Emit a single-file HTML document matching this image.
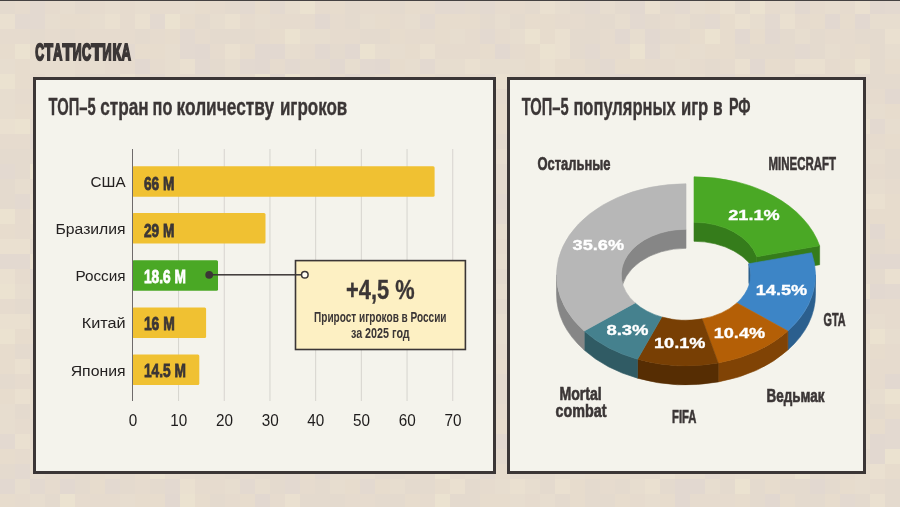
<!DOCTYPE html>
<html lang="ru"><head><meta charset="utf-8"><title>Статистика</title>
<style>
html,body{margin:0;padding:0;}
body{width:900px;height:507px;overflow:hidden;background:rgb(229, 219, 206);font-family:"Liberation Sans", sans-serif;position:relative;}
svg text{font-family:"Liberation Sans", sans-serif;}
</style></head><body>
<svg width="900" height="507" viewBox="0 0 900 507" style="position:absolute;left:0;top:0;display:block;will-change:transform" font-family='"Liberation Sans", sans-serif'>
<rect x="0" y="0" width="900" height="507" fill="rgb(229, 219, 206)"/>
<g shape-rendering="crispEdges">
<rect x="0.0" y="-1.3" width="15" height="15" fill="rgb(228, 218, 206)"/>
<rect x="15.0" y="-1.3" width="15" height="15" fill="rgb(230, 219, 206)"/>
<rect x="30.0" y="-1.3" width="15" height="15" fill="rgb(227, 217, 208)"/>
<rect x="45.0" y="-1.3" width="15" height="15" fill="rgb(230, 219, 206)"/>
<rect x="60.0" y="-1.3" width="15" height="15" fill="rgb(231, 221, 207)"/>
<rect x="75.0" y="-1.3" width="15" height="15" fill="rgb(228, 218, 206)"/>
<rect x="90.0" y="-1.3" width="15" height="15" fill="rgb(230, 219, 206)"/>
<rect x="105.0" y="-1.3" width="15" height="15" fill="rgb(231, 221, 207)"/>
<rect x="120.0" y="-1.3" width="15" height="15" fill="rgb(230, 219, 206)"/>
<rect x="135.0" y="-1.3" width="15" height="15" fill="rgb(231, 221, 207)"/>
<rect x="150.0" y="-1.3" width="15" height="15" fill="rgb(230, 219, 206)"/>
<rect x="165.0" y="-1.3" width="15" height="15" fill="rgb(230, 219, 206)"/>
<rect x="180.0" y="-1.3" width="15" height="15" fill="rgb(231, 221, 207)"/>
<rect x="195.0" y="-1.3" width="15" height="15" fill="rgb(231, 220, 205)"/>
<rect x="210.0" y="-1.3" width="15" height="15" fill="rgb(230, 219, 206)"/>
<rect x="225.0" y="-1.3" width="15" height="15" fill="rgb(228, 218, 206)"/>
<rect x="240.0" y="-1.3" width="15" height="15" fill="rgb(227, 217, 208)"/>
<rect x="255.0" y="-1.3" width="15" height="15" fill="rgb(231, 220, 205)"/>
<rect x="270.0" y="-1.3" width="15" height="15" fill="rgb(227, 217, 208)"/>
<rect x="285.0" y="-1.3" width="15" height="15" fill="rgb(231, 221, 207)"/>
<rect x="300.0" y="-1.3" width="15" height="15" fill="rgb(235, 226, 208)"/>
<rect x="315.0" y="-1.3" width="15" height="15" fill="rgb(230, 219, 206)"/>
<rect x="330.0" y="-1.3" width="15" height="15" fill="rgb(231, 220, 205)"/>
<rect x="345.0" y="-1.3" width="15" height="15" fill="rgb(228, 218, 206)"/>
<rect x="360.0" y="-1.3" width="15" height="15" fill="rgb(230, 219, 206)"/>
<rect x="375.0" y="-1.3" width="15" height="15" fill="rgb(230, 219, 206)"/>
<rect x="390.0" y="-1.3" width="15" height="15" fill="rgb(228, 218, 206)"/>
<rect x="405.0" y="-1.3" width="15" height="15" fill="rgb(231, 220, 205)"/>
<rect x="420.0" y="-1.3" width="15" height="15" fill="rgb(230, 219, 206)"/>
<rect x="435.0" y="-1.3" width="15" height="15" fill="rgb(227, 217, 208)"/>
<rect x="450.0" y="-1.3" width="15" height="15" fill="rgb(227, 217, 208)"/>
<rect x="465.0" y="-1.3" width="15" height="15" fill="rgb(228, 218, 206)"/>
<rect x="480.0" y="-1.3" width="15" height="15" fill="rgb(227, 217, 208)"/>
<rect x="495.0" y="-1.3" width="15" height="15" fill="rgb(230, 219, 206)"/>
<rect x="510.0" y="-1.3" width="15" height="15" fill="rgb(230, 219, 206)"/>
<rect x="525.0" y="-1.3" width="15" height="15" fill="rgb(228, 218, 206)"/>
<rect x="540.0" y="-1.3" width="15" height="15" fill="rgb(234, 224, 208)"/>
<rect x="555.0" y="-1.3" width="15" height="15" fill="rgb(231, 221, 207)"/>
<rect x="570.0" y="-1.3" width="15" height="15" fill="rgb(228, 218, 206)"/>
<rect x="585.0" y="-1.3" width="15" height="15" fill="rgb(227, 217, 208)"/>
<rect x="600.0" y="-1.3" width="15" height="15" fill="rgb(231, 221, 207)"/>
<rect x="615.0" y="-1.3" width="15" height="15" fill="rgb(228, 218, 206)"/>
<rect x="630.0" y="-1.3" width="15" height="15" fill="rgb(226, 216, 208)"/>
<rect x="645.0" y="-1.3" width="15" height="15" fill="rgb(234, 224, 208)"/>
<rect x="660.0" y="-1.3" width="15" height="15" fill="rgb(228, 218, 206)"/>
<rect x="675.0" y="-1.3" width="15" height="15" fill="rgb(227, 217, 208)"/>
<rect x="690.0" y="-1.3" width="15" height="15" fill="rgb(231, 221, 207)"/>
<rect x="705.0" y="-1.3" width="15" height="15" fill="rgb(231, 220, 205)"/>
<rect x="720.0" y="-1.3" width="15" height="15" fill="rgb(234, 224, 208)"/>
<rect x="735.0" y="-1.3" width="15" height="15" fill="rgb(228, 218, 206)"/>
<rect x="750.0" y="-1.3" width="15" height="15" fill="rgb(235, 226, 208)"/>
<rect x="765.0" y="-1.3" width="15" height="15" fill="rgb(230, 219, 206)"/>
<rect x="780.0" y="-1.3" width="15" height="15" fill="rgb(231, 221, 207)"/>
<rect x="795.0" y="-1.3" width="15" height="15" fill="rgb(226, 216, 208)"/>
<rect x="810.0" y="-1.3" width="15" height="15" fill="rgb(230, 219, 206)"/>
<rect x="825.0" y="-1.3" width="15" height="15" fill="rgb(231, 221, 207)"/>
<rect x="840.0" y="-1.3" width="15" height="15" fill="rgb(230, 219, 206)"/>
<rect x="855.0" y="-1.3" width="15" height="15" fill="rgb(234, 224, 208)"/>
<rect x="870.0" y="-1.3" width="15" height="15" fill="rgb(226, 216, 208)"/>
<rect x="885.0" y="-1.3" width="15" height="15" fill="rgb(227, 217, 208)"/>
<rect x="900.0" y="-1.3" width="15" height="15" fill="rgb(231, 220, 205)"/>
<rect x="915.0" y="-1.3" width="15" height="15" fill="rgb(228, 218, 206)"/>
<rect x="0.0" y="13.7" width="15" height="15" fill="rgb(234, 224, 208)"/>
<rect x="15.0" y="13.7" width="15" height="15" fill="rgb(227, 217, 208)"/>
<rect x="30.0" y="13.7" width="15" height="15" fill="rgb(227, 217, 208)"/>
<rect x="45.0" y="13.7" width="15" height="15" fill="rgb(231, 221, 207)"/>
<rect x="60.0" y="13.7" width="15" height="15" fill="rgb(231, 220, 205)"/>
<rect x="75.0" y="13.7" width="15" height="15" fill="rgb(231, 220, 205)"/>
<rect x="90.0" y="13.7" width="15" height="15" fill="rgb(231, 221, 207)"/>
<rect x="105.0" y="13.7" width="15" height="15" fill="rgb(234, 224, 208)"/>
<rect x="120.0" y="13.7" width="15" height="15" fill="rgb(230, 219, 206)"/>
<rect x="135.0" y="13.7" width="15" height="15" fill="rgb(234, 224, 208)"/>
<rect x="150.0" y="13.7" width="15" height="15" fill="rgb(227, 217, 208)"/>
<rect x="165.0" y="13.7" width="15" height="15" fill="rgb(235, 226, 208)"/>
<rect x="180.0" y="13.7" width="15" height="15" fill="rgb(231, 220, 205)"/>
<rect x="195.0" y="13.7" width="15" height="15" fill="rgb(228, 218, 206)"/>
<rect x="210.0" y="13.7" width="15" height="15" fill="rgb(231, 221, 207)"/>
<rect x="225.0" y="13.7" width="15" height="15" fill="rgb(234, 224, 208)"/>
<rect x="240.0" y="13.7" width="15" height="15" fill="rgb(230, 219, 206)"/>
<rect x="255.0" y="13.7" width="15" height="15" fill="rgb(231, 221, 207)"/>
<rect x="270.0" y="13.7" width="15" height="15" fill="rgb(230, 219, 206)"/>
<rect x="285.0" y="13.7" width="15" height="15" fill="rgb(230, 219, 206)"/>
<rect x="300.0" y="13.7" width="15" height="15" fill="rgb(230, 219, 206)"/>
<rect x="315.0" y="13.7" width="15" height="15" fill="rgb(226, 216, 208)"/>
<rect x="330.0" y="13.7" width="15" height="15" fill="rgb(230, 219, 206)"/>
<rect x="345.0" y="13.7" width="15" height="15" fill="rgb(228, 218, 206)"/>
<rect x="360.0" y="13.7" width="15" height="15" fill="rgb(231, 221, 207)"/>
<rect x="375.0" y="13.7" width="15" height="15" fill="rgb(231, 220, 205)"/>
<rect x="390.0" y="13.7" width="15" height="15" fill="rgb(230, 219, 206)"/>
<rect x="405.0" y="13.7" width="15" height="15" fill="rgb(231, 221, 207)"/>
<rect x="420.0" y="13.7" width="15" height="15" fill="rgb(227, 217, 208)"/>
<rect x="435.0" y="13.7" width="15" height="15" fill="rgb(231, 220, 205)"/>
<rect x="450.0" y="13.7" width="15" height="15" fill="rgb(231, 220, 205)"/>
<rect x="465.0" y="13.7" width="15" height="15" fill="rgb(231, 220, 205)"/>
<rect x="480.0" y="13.7" width="15" height="15" fill="rgb(228, 218, 206)"/>
<rect x="495.0" y="13.7" width="15" height="15" fill="rgb(231, 221, 207)"/>
<rect x="510.0" y="13.7" width="15" height="15" fill="rgb(228, 218, 206)"/>
<rect x="525.0" y="13.7" width="15" height="15" fill="rgb(231, 220, 205)"/>
<rect x="540.0" y="13.7" width="15" height="15" fill="rgb(231, 220, 205)"/>
<rect x="555.0" y="13.7" width="15" height="15" fill="rgb(230, 219, 206)"/>
<rect x="570.0" y="13.7" width="15" height="15" fill="rgb(230, 219, 206)"/>
<rect x="585.0" y="13.7" width="15" height="15" fill="rgb(228, 218, 206)"/>
<rect x="600.0" y="13.7" width="15" height="15" fill="rgb(228, 218, 206)"/>
<rect x="615.0" y="13.7" width="15" height="15" fill="rgb(231, 221, 207)"/>
<rect x="630.0" y="13.7" width="15" height="15" fill="rgb(227, 217, 208)"/>
<rect x="645.0" y="13.7" width="15" height="15" fill="rgb(228, 218, 206)"/>
<rect x="660.0" y="13.7" width="15" height="15" fill="rgb(230, 219, 206)"/>
<rect x="675.0" y="13.7" width="15" height="15" fill="rgb(231, 221, 207)"/>
<rect x="690.0" y="13.7" width="15" height="15" fill="rgb(228, 218, 206)"/>
<rect x="705.0" y="13.7" width="15" height="15" fill="rgb(227, 217, 208)"/>
<rect x="720.0" y="13.7" width="15" height="15" fill="rgb(231, 220, 205)"/>
<rect x="735.0" y="13.7" width="15" height="15" fill="rgb(234, 224, 208)"/>
<rect x="750.0" y="13.7" width="15" height="15" fill="rgb(231, 221, 207)"/>
<rect x="765.0" y="13.7" width="15" height="15" fill="rgb(227, 217, 208)"/>
<rect x="780.0" y="13.7" width="15" height="15" fill="rgb(234, 224, 208)"/>
<rect x="795.0" y="13.7" width="15" height="15" fill="rgb(230, 219, 206)"/>
<rect x="810.0" y="13.7" width="15" height="15" fill="rgb(231, 220, 205)"/>
<rect x="825.0" y="13.7" width="15" height="15" fill="rgb(226, 216, 208)"/>
<rect x="840.0" y="13.7" width="15" height="15" fill="rgb(231, 220, 205)"/>
<rect x="855.0" y="13.7" width="15" height="15" fill="rgb(226, 216, 208)"/>
<rect x="870.0" y="13.7" width="15" height="15" fill="rgb(231, 221, 207)"/>
<rect x="885.0" y="13.7" width="15" height="15" fill="rgb(231, 221, 207)"/>
<rect x="900.0" y="13.7" width="15" height="15" fill="rgb(230, 219, 206)"/>
<rect x="915.0" y="13.7" width="15" height="15" fill="rgb(227, 217, 208)"/>
<rect x="0.0" y="28.7" width="15" height="15" fill="rgb(230, 219, 206)"/>
<rect x="15.0" y="28.7" width="15" height="15" fill="rgb(230, 219, 206)"/>
<rect x="30.0" y="28.7" width="15" height="15" fill="rgb(228, 218, 206)"/>
<rect x="45.0" y="28.7" width="15" height="15" fill="rgb(230, 219, 206)"/>
<rect x="60.0" y="28.7" width="15" height="15" fill="rgb(228, 218, 206)"/>
<rect x="75.0" y="28.7" width="15" height="15" fill="rgb(230, 219, 206)"/>
<rect x="90.0" y="28.7" width="15" height="15" fill="rgb(230, 219, 206)"/>
<rect x="105.0" y="28.7" width="15" height="15" fill="rgb(230, 219, 206)"/>
<rect x="120.0" y="28.7" width="15" height="15" fill="rgb(230, 219, 206)"/>
<rect x="135.0" y="28.7" width="15" height="15" fill="rgb(228, 218, 206)"/>
<rect x="150.0" y="28.7" width="15" height="15" fill="rgb(230, 219, 206)"/>
<rect x="165.0" y="28.7" width="15" height="15" fill="rgb(231, 220, 205)"/>
<rect x="180.0" y="28.7" width="15" height="15" fill="rgb(227, 217, 208)"/>
<rect x="195.0" y="28.7" width="15" height="15" fill="rgb(230, 219, 206)"/>
<rect x="210.0" y="28.7" width="15" height="15" fill="rgb(228, 218, 206)"/>
<rect x="225.0" y="28.7" width="15" height="15" fill="rgb(228, 218, 206)"/>
<rect x="240.0" y="28.7" width="15" height="15" fill="rgb(228, 218, 206)"/>
<rect x="255.0" y="28.7" width="15" height="15" fill="rgb(230, 219, 206)"/>
<rect x="270.0" y="28.7" width="15" height="15" fill="rgb(231, 220, 205)"/>
<rect x="285.0" y="28.7" width="15" height="15" fill="rgb(235, 226, 208)"/>
<rect x="300.0" y="28.7" width="15" height="15" fill="rgb(231, 221, 207)"/>
<rect x="315.0" y="28.7" width="15" height="15" fill="rgb(231, 221, 207)"/>
<rect x="330.0" y="28.7" width="15" height="15" fill="rgb(230, 219, 206)"/>
<rect x="345.0" y="28.7" width="15" height="15" fill="rgb(230, 219, 206)"/>
<rect x="360.0" y="28.7" width="15" height="15" fill="rgb(228, 218, 206)"/>
<rect x="375.0" y="28.7" width="15" height="15" fill="rgb(228, 218, 206)"/>
<rect x="390.0" y="28.7" width="15" height="15" fill="rgb(231, 220, 205)"/>
<rect x="405.0" y="28.7" width="15" height="15" fill="rgb(230, 219, 206)"/>
<rect x="420.0" y="28.7" width="15" height="15" fill="rgb(230, 219, 206)"/>
<rect x="435.0" y="28.7" width="15" height="15" fill="rgb(231, 220, 205)"/>
<rect x="450.0" y="28.7" width="15" height="15" fill="rgb(231, 221, 207)"/>
<rect x="465.0" y="28.7" width="15" height="15" fill="rgb(230, 219, 206)"/>
<rect x="480.0" y="28.7" width="15" height="15" fill="rgb(227, 217, 208)"/>
<rect x="495.0" y="28.7" width="15" height="15" fill="rgb(230, 219, 206)"/>
<rect x="510.0" y="28.7" width="15" height="15" fill="rgb(231, 221, 207)"/>
<rect x="525.0" y="28.7" width="15" height="15" fill="rgb(235, 226, 208)"/>
<rect x="540.0" y="28.7" width="15" height="15" fill="rgb(231, 220, 205)"/>
<rect x="555.0" y="28.7" width="15" height="15" fill="rgb(234, 224, 208)"/>
<rect x="570.0" y="28.7" width="15" height="15" fill="rgb(228, 218, 206)"/>
<rect x="585.0" y="28.7" width="15" height="15" fill="rgb(228, 218, 206)"/>
<rect x="600.0" y="28.7" width="15" height="15" fill="rgb(230, 219, 206)"/>
<rect x="615.0" y="28.7" width="15" height="15" fill="rgb(226, 216, 208)"/>
<rect x="630.0" y="28.7" width="15" height="15" fill="rgb(231, 221, 207)"/>
<rect x="645.0" y="28.7" width="15" height="15" fill="rgb(226, 216, 208)"/>
<rect x="660.0" y="28.7" width="15" height="15" fill="rgb(228, 218, 206)"/>
<rect x="675.0" y="28.7" width="15" height="15" fill="rgb(228, 218, 206)"/>
<rect x="690.0" y="28.7" width="15" height="15" fill="rgb(231, 220, 205)"/>
<rect x="705.0" y="28.7" width="15" height="15" fill="rgb(235, 226, 208)"/>
<rect x="720.0" y="28.7" width="15" height="15" fill="rgb(231, 220, 205)"/>
<rect x="735.0" y="28.7" width="15" height="15" fill="rgb(226, 216, 208)"/>
<rect x="750.0" y="28.7" width="15" height="15" fill="rgb(231, 220, 205)"/>
<rect x="765.0" y="28.7" width="15" height="15" fill="rgb(226, 216, 208)"/>
<rect x="780.0" y="28.7" width="15" height="15" fill="rgb(228, 218, 206)"/>
<rect x="795.0" y="28.7" width="15" height="15" fill="rgb(231, 221, 207)"/>
<rect x="810.0" y="28.7" width="15" height="15" fill="rgb(228, 218, 206)"/>
<rect x="825.0" y="28.7" width="15" height="15" fill="rgb(230, 219, 206)"/>
<rect x="840.0" y="28.7" width="15" height="15" fill="rgb(230, 219, 206)"/>
<rect x="855.0" y="28.7" width="15" height="15" fill="rgb(228, 218, 206)"/>
<rect x="870.0" y="28.7" width="15" height="15" fill="rgb(228, 218, 206)"/>
<rect x="885.0" y="28.7" width="15" height="15" fill="rgb(234, 224, 208)"/>
<rect x="900.0" y="28.7" width="15" height="15" fill="rgb(231, 220, 205)"/>
<rect x="915.0" y="28.7" width="15" height="15" fill="rgb(231, 221, 207)"/>
<rect x="0.0" y="43.7" width="15" height="15" fill="rgb(231, 220, 205)"/>
<rect x="15.0" y="43.7" width="15" height="15" fill="rgb(235, 226, 208)"/>
<rect x="30.0" y="43.7" width="15" height="15" fill="rgb(231, 220, 205)"/>
<rect x="45.0" y="43.7" width="15" height="15" fill="rgb(228, 218, 206)"/>
<rect x="60.0" y="43.7" width="15" height="15" fill="rgb(228, 218, 206)"/>
<rect x="75.0" y="43.7" width="15" height="15" fill="rgb(228, 218, 206)"/>
<rect x="90.0" y="43.7" width="15" height="15" fill="rgb(228, 218, 206)"/>
<rect x="105.0" y="43.7" width="15" height="15" fill="rgb(228, 218, 206)"/>
<rect x="120.0" y="43.7" width="15" height="15" fill="rgb(227, 217, 208)"/>
<rect x="135.0" y="43.7" width="15" height="15" fill="rgb(231, 220, 205)"/>
<rect x="150.0" y="43.7" width="15" height="15" fill="rgb(231, 220, 205)"/>
<rect x="165.0" y="43.7" width="15" height="15" fill="rgb(231, 221, 207)"/>
<rect x="180.0" y="43.7" width="15" height="15" fill="rgb(227, 217, 208)"/>
<rect x="195.0" y="43.7" width="15" height="15" fill="rgb(226, 216, 208)"/>
<rect x="210.0" y="43.7" width="15" height="15" fill="rgb(230, 219, 206)"/>
<rect x="225.0" y="43.7" width="15" height="15" fill="rgb(234, 224, 208)"/>
<rect x="240.0" y="43.7" width="15" height="15" fill="rgb(231, 220, 205)"/>
<rect x="255.0" y="43.7" width="15" height="15" fill="rgb(226, 216, 208)"/>
<rect x="270.0" y="43.7" width="15" height="15" fill="rgb(226, 216, 208)"/>
<rect x="285.0" y="43.7" width="15" height="15" fill="rgb(231, 221, 207)"/>
<rect x="300.0" y="43.7" width="15" height="15" fill="rgb(230, 219, 206)"/>
<rect x="315.0" y="43.7" width="15" height="15" fill="rgb(226, 216, 208)"/>
<rect x="330.0" y="43.7" width="15" height="15" fill="rgb(228, 218, 206)"/>
<rect x="345.0" y="43.7" width="15" height="15" fill="rgb(226, 216, 208)"/>
<rect x="360.0" y="43.7" width="15" height="15" fill="rgb(235, 226, 208)"/>
<rect x="375.0" y="43.7" width="15" height="15" fill="rgb(231, 221, 207)"/>
<rect x="390.0" y="43.7" width="15" height="15" fill="rgb(231, 221, 207)"/>
<rect x="405.0" y="43.7" width="15" height="15" fill="rgb(231, 220, 205)"/>
<rect x="420.0" y="43.7" width="15" height="15" fill="rgb(234, 224, 208)"/>
<rect x="435.0" y="43.7" width="15" height="15" fill="rgb(230, 219, 206)"/>
<rect x="450.0" y="43.7" width="15" height="15" fill="rgb(230, 219, 206)"/>
<rect x="465.0" y="43.7" width="15" height="15" fill="rgb(230, 219, 206)"/>
<rect x="480.0" y="43.7" width="15" height="15" fill="rgb(231, 220, 205)"/>
<rect x="495.0" y="43.7" width="15" height="15" fill="rgb(226, 216, 208)"/>
<rect x="510.0" y="43.7" width="15" height="15" fill="rgb(230, 219, 206)"/>
<rect x="525.0" y="43.7" width="15" height="15" fill="rgb(231, 220, 205)"/>
<rect x="540.0" y="43.7" width="15" height="15" fill="rgb(235, 226, 208)"/>
<rect x="555.0" y="43.7" width="15" height="15" fill="rgb(234, 224, 208)"/>
<rect x="570.0" y="43.7" width="15" height="15" fill="rgb(228, 218, 206)"/>
<rect x="585.0" y="43.7" width="15" height="15" fill="rgb(227, 217, 208)"/>
<rect x="600.0" y="43.7" width="15" height="15" fill="rgb(230, 219, 206)"/>
<rect x="615.0" y="43.7" width="15" height="15" fill="rgb(230, 219, 206)"/>
<rect x="630.0" y="43.7" width="15" height="15" fill="rgb(235, 226, 208)"/>
<rect x="645.0" y="43.7" width="15" height="15" fill="rgb(227, 217, 208)"/>
<rect x="660.0" y="43.7" width="15" height="15" fill="rgb(231, 221, 207)"/>
<rect x="675.0" y="43.7" width="15" height="15" fill="rgb(231, 220, 205)"/>
<rect x="690.0" y="43.7" width="15" height="15" fill="rgb(231, 221, 207)"/>
<rect x="705.0" y="43.7" width="15" height="15" fill="rgb(231, 220, 205)"/>
<rect x="720.0" y="43.7" width="15" height="15" fill="rgb(231, 220, 205)"/>
<rect x="735.0" y="43.7" width="15" height="15" fill="rgb(228, 218, 206)"/>
<rect x="750.0" y="43.7" width="15" height="15" fill="rgb(228, 218, 206)"/>
<rect x="765.0" y="43.7" width="15" height="15" fill="rgb(228, 218, 206)"/>
<rect x="780.0" y="43.7" width="15" height="15" fill="rgb(228, 218, 206)"/>
<rect x="795.0" y="43.7" width="15" height="15" fill="rgb(227, 217, 208)"/>
<rect x="810.0" y="43.7" width="15" height="15" fill="rgb(228, 218, 206)"/>
<rect x="825.0" y="43.7" width="15" height="15" fill="rgb(231, 221, 207)"/>
<rect x="840.0" y="43.7" width="15" height="15" fill="rgb(230, 219, 206)"/>
<rect x="855.0" y="43.7" width="15" height="15" fill="rgb(231, 220, 205)"/>
<rect x="870.0" y="43.7" width="15" height="15" fill="rgb(228, 218, 206)"/>
<rect x="885.0" y="43.7" width="15" height="15" fill="rgb(231, 221, 207)"/>
<rect x="900.0" y="43.7" width="15" height="15" fill="rgb(227, 217, 208)"/>
<rect x="915.0" y="43.7" width="15" height="15" fill="rgb(231, 220, 205)"/>
<rect x="0.0" y="58.7" width="15" height="15" fill="rgb(231, 221, 207)"/>
<rect x="15.0" y="58.7" width="15" height="15" fill="rgb(231, 220, 205)"/>
<rect x="30.0" y="58.7" width="15" height="15" fill="rgb(231, 221, 207)"/>
<rect x="45.0" y="58.7" width="15" height="15" fill="rgb(231, 221, 207)"/>
<rect x="60.0" y="58.7" width="15" height="15" fill="rgb(231, 221, 207)"/>
<rect x="75.0" y="58.7" width="15" height="15" fill="rgb(230, 219, 206)"/>
<rect x="90.0" y="58.7" width="15" height="15" fill="rgb(231, 221, 207)"/>
<rect x="105.0" y="58.7" width="15" height="15" fill="rgb(230, 219, 206)"/>
<rect x="120.0" y="58.7" width="15" height="15" fill="rgb(230, 219, 206)"/>
<rect x="135.0" y="58.7" width="15" height="15" fill="rgb(226, 216, 208)"/>
<rect x="150.0" y="58.7" width="15" height="15" fill="rgb(230, 219, 206)"/>
<rect x="165.0" y="58.7" width="15" height="15" fill="rgb(231, 221, 207)"/>
<rect x="180.0" y="58.7" width="15" height="15" fill="rgb(234, 224, 208)"/>
<rect x="195.0" y="58.7" width="15" height="15" fill="rgb(227, 217, 208)"/>
<rect x="210.0" y="58.7" width="15" height="15" fill="rgb(228, 218, 206)"/>
<rect x="225.0" y="58.7" width="15" height="15" fill="rgb(231, 221, 207)"/>
<rect x="240.0" y="58.7" width="15" height="15" fill="rgb(227, 217, 208)"/>
<rect x="255.0" y="58.7" width="15" height="15" fill="rgb(226, 216, 208)"/>
<rect x="270.0" y="58.7" width="15" height="15" fill="rgb(230, 219, 206)"/>
<rect x="285.0" y="58.7" width="15" height="15" fill="rgb(227, 217, 208)"/>
<rect x="300.0" y="58.7" width="15" height="15" fill="rgb(228, 218, 206)"/>
<rect x="315.0" y="58.7" width="15" height="15" fill="rgb(228, 218, 206)"/>
<rect x="330.0" y="58.7" width="15" height="15" fill="rgb(226, 216, 208)"/>
<rect x="345.0" y="58.7" width="15" height="15" fill="rgb(231, 221, 207)"/>
<rect x="360.0" y="58.7" width="15" height="15" fill="rgb(227, 217, 208)"/>
<rect x="375.0" y="58.7" width="15" height="15" fill="rgb(226, 216, 208)"/>
<rect x="390.0" y="58.7" width="15" height="15" fill="rgb(231, 220, 205)"/>
<rect x="405.0" y="58.7" width="15" height="15" fill="rgb(231, 221, 207)"/>
<rect x="420.0" y="58.7" width="15" height="15" fill="rgb(227, 217, 208)"/>
<rect x="435.0" y="58.7" width="15" height="15" fill="rgb(231, 221, 207)"/>
<rect x="450.0" y="58.7" width="15" height="15" fill="rgb(231, 221, 207)"/>
<rect x="465.0" y="58.7" width="15" height="15" fill="rgb(234, 224, 208)"/>
<rect x="480.0" y="58.7" width="15" height="15" fill="rgb(231, 221, 207)"/>
<rect x="495.0" y="58.7" width="15" height="15" fill="rgb(231, 221, 207)"/>
<rect x="510.0" y="58.7" width="15" height="15" fill="rgb(231, 221, 207)"/>
<rect x="525.0" y="58.7" width="15" height="15" fill="rgb(231, 220, 205)"/>
<rect x="540.0" y="58.7" width="15" height="15" fill="rgb(234, 224, 208)"/>
<rect x="555.0" y="58.7" width="15" height="15" fill="rgb(231, 220, 205)"/>
<rect x="570.0" y="58.7" width="15" height="15" fill="rgb(231, 220, 205)"/>
<rect x="585.0" y="58.7" width="15" height="15" fill="rgb(228, 218, 206)"/>
<rect x="600.0" y="58.7" width="15" height="15" fill="rgb(227, 217, 208)"/>
<rect x="615.0" y="58.7" width="15" height="15" fill="rgb(231, 220, 205)"/>
<rect x="630.0" y="58.7" width="15" height="15" fill="rgb(231, 220, 205)"/>
<rect x="645.0" y="58.7" width="15" height="15" fill="rgb(230, 219, 206)"/>
<rect x="660.0" y="58.7" width="15" height="15" fill="rgb(230, 219, 206)"/>
<rect x="675.0" y="58.7" width="15" height="15" fill="rgb(231, 221, 207)"/>
<rect x="690.0" y="58.7" width="15" height="15" fill="rgb(230, 219, 206)"/>
<rect x="705.0" y="58.7" width="15" height="15" fill="rgb(228, 218, 206)"/>
<rect x="720.0" y="58.7" width="15" height="15" fill="rgb(230, 219, 206)"/>
<rect x="735.0" y="58.7" width="15" height="15" fill="rgb(234, 224, 208)"/>
<rect x="750.0" y="58.7" width="15" height="15" fill="rgb(226, 216, 208)"/>
<rect x="765.0" y="58.7" width="15" height="15" fill="rgb(231, 220, 205)"/>
<rect x="780.0" y="58.7" width="15" height="15" fill="rgb(230, 219, 206)"/>
<rect x="795.0" y="58.7" width="15" height="15" fill="rgb(234, 224, 208)"/>
<rect x="810.0" y="58.7" width="15" height="15" fill="rgb(234, 224, 208)"/>
<rect x="825.0" y="58.7" width="15" height="15" fill="rgb(230, 219, 206)"/>
<rect x="840.0" y="58.7" width="15" height="15" fill="rgb(231, 220, 205)"/>
<rect x="855.0" y="58.7" width="15" height="15" fill="rgb(235, 226, 208)"/>
<rect x="870.0" y="58.7" width="15" height="15" fill="rgb(228, 218, 206)"/>
<rect x="885.0" y="58.7" width="15" height="15" fill="rgb(231, 220, 205)"/>
<rect x="900.0" y="58.7" width="15" height="15" fill="rgb(231, 221, 207)"/>
<rect x="915.0" y="58.7" width="15" height="15" fill="rgb(231, 221, 207)"/>
<rect x="0.0" y="73.7" width="15" height="15" fill="rgb(235, 226, 208)"/>
<rect x="15.0" y="73.7" width="15" height="15" fill="rgb(231, 220, 205)"/>
<rect x="30.0" y="73.7" width="15" height="15" fill="rgb(230, 219, 206)"/>
<rect x="45.0" y="73.7" width="15" height="15" fill="rgb(231, 221, 207)"/>
<rect x="60.0" y="73.7" width="15" height="15" fill="rgb(231, 221, 207)"/>
<rect x="75.0" y="73.7" width="15" height="15" fill="rgb(228, 218, 206)"/>
<rect x="90.0" y="73.7" width="15" height="15" fill="rgb(228, 218, 206)"/>
<rect x="105.0" y="73.7" width="15" height="15" fill="rgb(228, 218, 206)"/>
<rect x="120.0" y="73.7" width="15" height="15" fill="rgb(234, 224, 208)"/>
<rect x="135.0" y="73.7" width="15" height="15" fill="rgb(230, 219, 206)"/>
<rect x="150.0" y="73.7" width="15" height="15" fill="rgb(227, 217, 208)"/>
<rect x="165.0" y="73.7" width="15" height="15" fill="rgb(231, 221, 207)"/>
<rect x="180.0" y="73.7" width="15" height="15" fill="rgb(230, 219, 206)"/>
<rect x="195.0" y="73.7" width="15" height="15" fill="rgb(228, 218, 206)"/>
<rect x="210.0" y="73.7" width="15" height="15" fill="rgb(227, 217, 208)"/>
<rect x="225.0" y="73.7" width="15" height="15" fill="rgb(231, 221, 207)"/>
<rect x="240.0" y="73.7" width="15" height="15" fill="rgb(230, 219, 206)"/>
<rect x="255.0" y="73.7" width="15" height="15" fill="rgb(235, 226, 208)"/>
<rect x="270.0" y="73.7" width="15" height="15" fill="rgb(226, 216, 208)"/>
<rect x="285.0" y="73.7" width="15" height="15" fill="rgb(235, 226, 208)"/>
<rect x="300.0" y="73.7" width="15" height="15" fill="rgb(230, 219, 206)"/>
<rect x="315.0" y="73.7" width="15" height="15" fill="rgb(228, 218, 206)"/>
<rect x="330.0" y="73.7" width="15" height="15" fill="rgb(230, 219, 206)"/>
<rect x="345.0" y="73.7" width="15" height="15" fill="rgb(226, 216, 208)"/>
<rect x="360.0" y="73.7" width="15" height="15" fill="rgb(228, 218, 206)"/>
<rect x="375.0" y="73.7" width="15" height="15" fill="rgb(230, 219, 206)"/>
<rect x="390.0" y="73.7" width="15" height="15" fill="rgb(231, 221, 207)"/>
<rect x="405.0" y="73.7" width="15" height="15" fill="rgb(231, 220, 205)"/>
<rect x="420.0" y="73.7" width="15" height="15" fill="rgb(231, 220, 205)"/>
<rect x="435.0" y="73.7" width="15" height="15" fill="rgb(228, 218, 206)"/>
<rect x="450.0" y="73.7" width="15" height="15" fill="rgb(230, 219, 206)"/>
<rect x="465.0" y="73.7" width="15" height="15" fill="rgb(231, 220, 205)"/>
<rect x="480.0" y="73.7" width="15" height="15" fill="rgb(227, 217, 208)"/>
<rect x="495.0" y="73.7" width="15" height="15" fill="rgb(234, 224, 208)"/>
<rect x="510.0" y="73.7" width="15" height="15" fill="rgb(230, 219, 206)"/>
<rect x="525.0" y="73.7" width="15" height="15" fill="rgb(230, 219, 206)"/>
<rect x="540.0" y="73.7" width="15" height="15" fill="rgb(234, 224, 208)"/>
<rect x="555.0" y="73.7" width="15" height="15" fill="rgb(231, 221, 207)"/>
<rect x="570.0" y="73.7" width="15" height="15" fill="rgb(230, 219, 206)"/>
<rect x="585.0" y="73.7" width="15" height="15" fill="rgb(231, 220, 205)"/>
<rect x="600.0" y="73.7" width="15" height="15" fill="rgb(227, 217, 208)"/>
<rect x="615.0" y="73.7" width="15" height="15" fill="rgb(226, 216, 208)"/>
<rect x="630.0" y="73.7" width="15" height="15" fill="rgb(230, 219, 206)"/>
<rect x="645.0" y="73.7" width="15" height="15" fill="rgb(231, 220, 205)"/>
<rect x="660.0" y="73.7" width="15" height="15" fill="rgb(230, 219, 206)"/>
<rect x="675.0" y="73.7" width="15" height="15" fill="rgb(231, 220, 205)"/>
<rect x="690.0" y="73.7" width="15" height="15" fill="rgb(231, 221, 207)"/>
<rect x="705.0" y="73.7" width="15" height="15" fill="rgb(228, 218, 206)"/>
<rect x="720.0" y="73.7" width="15" height="15" fill="rgb(227, 217, 208)"/>
<rect x="735.0" y="73.7" width="15" height="15" fill="rgb(231, 220, 205)"/>
<rect x="750.0" y="73.7" width="15" height="15" fill="rgb(228, 218, 206)"/>
<rect x="765.0" y="73.7" width="15" height="15" fill="rgb(230, 219, 206)"/>
<rect x="780.0" y="73.7" width="15" height="15" fill="rgb(231, 221, 207)"/>
<rect x="795.0" y="73.7" width="15" height="15" fill="rgb(228, 218, 206)"/>
<rect x="810.0" y="73.7" width="15" height="15" fill="rgb(230, 219, 206)"/>
<rect x="825.0" y="73.7" width="15" height="15" fill="rgb(230, 219, 206)"/>
<rect x="840.0" y="73.7" width="15" height="15" fill="rgb(230, 219, 206)"/>
<rect x="855.0" y="73.7" width="15" height="15" fill="rgb(228, 218, 206)"/>
<rect x="870.0" y="73.7" width="15" height="15" fill="rgb(228, 218, 206)"/>
<rect x="885.0" y="73.7" width="15" height="15" fill="rgb(228, 218, 206)"/>
<rect x="900.0" y="73.7" width="15" height="15" fill="rgb(226, 216, 208)"/>
<rect x="915.0" y="73.7" width="15" height="15" fill="rgb(228, 218, 206)"/>
<rect x="0.0" y="88.7" width="15" height="15" fill="rgb(231, 221, 207)"/>
<rect x="15.0" y="88.7" width="15" height="15" fill="rgb(230, 219, 206)"/>
<rect x="30.0" y="88.7" width="15" height="15" fill="rgb(228, 218, 206)"/>
<rect x="495.0" y="88.7" width="15" height="15" fill="rgb(230, 219, 206)"/>
<rect x="855.0" y="88.7" width="15" height="15" fill="rgb(228, 218, 206)"/>
<rect x="870.0" y="88.7" width="15" height="15" fill="rgb(230, 219, 206)"/>
<rect x="885.0" y="88.7" width="15" height="15" fill="rgb(226, 216, 208)"/>
<rect x="900.0" y="88.7" width="15" height="15" fill="rgb(227, 217, 208)"/>
<rect x="915.0" y="88.7" width="15" height="15" fill="rgb(230, 219, 206)"/>
<rect x="0.0" y="103.7" width="15" height="15" fill="rgb(231, 221, 207)"/>
<rect x="15.0" y="103.7" width="15" height="15" fill="rgb(231, 220, 205)"/>
<rect x="30.0" y="103.7" width="15" height="15" fill="rgb(230, 219, 206)"/>
<rect x="495.0" y="103.7" width="15" height="15" fill="rgb(231, 220, 205)"/>
<rect x="855.0" y="103.7" width="15" height="15" fill="rgb(231, 221, 207)"/>
<rect x="870.0" y="103.7" width="15" height="15" fill="rgb(231, 221, 207)"/>
<rect x="885.0" y="103.7" width="15" height="15" fill="rgb(231, 220, 205)"/>
<rect x="900.0" y="103.7" width="15" height="15" fill="rgb(231, 221, 207)"/>
<rect x="915.0" y="103.7" width="15" height="15" fill="rgb(231, 221, 207)"/>
<rect x="0.0" y="118.7" width="15" height="15" fill="rgb(234, 224, 208)"/>
<rect x="15.0" y="118.7" width="15" height="15" fill="rgb(235, 226, 208)"/>
<rect x="30.0" y="118.7" width="15" height="15" fill="rgb(228, 218, 206)"/>
<rect x="495.0" y="118.7" width="15" height="15" fill="rgb(231, 220, 205)"/>
<rect x="855.0" y="118.7" width="15" height="15" fill="rgb(234, 224, 208)"/>
<rect x="870.0" y="118.7" width="15" height="15" fill="rgb(227, 217, 208)"/>
<rect x="885.0" y="118.7" width="15" height="15" fill="rgb(231, 221, 207)"/>
<rect x="900.0" y="118.7" width="15" height="15" fill="rgb(228, 218, 206)"/>
<rect x="915.0" y="118.7" width="15" height="15" fill="rgb(230, 219, 206)"/>
<rect x="0.0" y="133.7" width="15" height="15" fill="rgb(230, 219, 206)"/>
<rect x="15.0" y="133.7" width="15" height="15" fill="rgb(230, 219, 206)"/>
<rect x="30.0" y="133.7" width="15" height="15" fill="rgb(226, 216, 208)"/>
<rect x="495.0" y="133.7" width="15" height="15" fill="rgb(228, 218, 206)"/>
<rect x="855.0" y="133.7" width="15" height="15" fill="rgb(230, 219, 206)"/>
<rect x="870.0" y="133.7" width="15" height="15" fill="rgb(230, 219, 206)"/>
<rect x="885.0" y="133.7" width="15" height="15" fill="rgb(231, 220, 205)"/>
<rect x="900.0" y="133.7" width="15" height="15" fill="rgb(231, 220, 205)"/>
<rect x="915.0" y="133.7" width="15" height="15" fill="rgb(234, 224, 208)"/>
<rect x="0.0" y="148.7" width="15" height="15" fill="rgb(228, 218, 206)"/>
<rect x="15.0" y="148.7" width="15" height="15" fill="rgb(228, 218, 206)"/>
<rect x="30.0" y="148.7" width="15" height="15" fill="rgb(228, 218, 206)"/>
<rect x="495.0" y="148.7" width="15" height="15" fill="rgb(231, 221, 207)"/>
<rect x="855.0" y="148.7" width="15" height="15" fill="rgb(230, 219, 206)"/>
<rect x="870.0" y="148.7" width="15" height="15" fill="rgb(231, 221, 207)"/>
<rect x="885.0" y="148.7" width="15" height="15" fill="rgb(228, 218, 206)"/>
<rect x="900.0" y="148.7" width="15" height="15" fill="rgb(235, 226, 208)"/>
<rect x="915.0" y="148.7" width="15" height="15" fill="rgb(235, 226, 208)"/>
<rect x="0.0" y="163.7" width="15" height="15" fill="rgb(227, 217, 208)"/>
<rect x="15.0" y="163.7" width="15" height="15" fill="rgb(228, 218, 206)"/>
<rect x="30.0" y="163.7" width="15" height="15" fill="rgb(235, 226, 208)"/>
<rect x="495.0" y="163.7" width="15" height="15" fill="rgb(228, 218, 206)"/>
<rect x="855.0" y="163.7" width="15" height="15" fill="rgb(228, 218, 206)"/>
<rect x="870.0" y="163.7" width="15" height="15" fill="rgb(230, 219, 206)"/>
<rect x="885.0" y="163.7" width="15" height="15" fill="rgb(228, 218, 206)"/>
<rect x="900.0" y="163.7" width="15" height="15" fill="rgb(231, 221, 207)"/>
<rect x="915.0" y="163.7" width="15" height="15" fill="rgb(231, 221, 207)"/>
<rect x="0.0" y="178.7" width="15" height="15" fill="rgb(228, 218, 206)"/>
<rect x="15.0" y="178.7" width="15" height="15" fill="rgb(231, 221, 207)"/>
<rect x="30.0" y="178.7" width="15" height="15" fill="rgb(230, 219, 206)"/>
<rect x="495.0" y="178.7" width="15" height="15" fill="rgb(228, 218, 206)"/>
<rect x="855.0" y="178.7" width="15" height="15" fill="rgb(230, 219, 206)"/>
<rect x="870.0" y="178.7" width="15" height="15" fill="rgb(231, 221, 207)"/>
<rect x="885.0" y="178.7" width="15" height="15" fill="rgb(230, 219, 206)"/>
<rect x="900.0" y="178.7" width="15" height="15" fill="rgb(230, 219, 206)"/>
<rect x="915.0" y="178.7" width="15" height="15" fill="rgb(228, 218, 206)"/>
<rect x="0.0" y="193.7" width="15" height="15" fill="rgb(228, 218, 206)"/>
<rect x="15.0" y="193.7" width="15" height="15" fill="rgb(227, 217, 208)"/>
<rect x="30.0" y="193.7" width="15" height="15" fill="rgb(231, 221, 207)"/>
<rect x="495.0" y="193.7" width="15" height="15" fill="rgb(226, 216, 208)"/>
<rect x="855.0" y="193.7" width="15" height="15" fill="rgb(234, 224, 208)"/>
<rect x="870.0" y="193.7" width="15" height="15" fill="rgb(234, 224, 208)"/>
<rect x="885.0" y="193.7" width="15" height="15" fill="rgb(231, 220, 205)"/>
<rect x="900.0" y="193.7" width="15" height="15" fill="rgb(231, 221, 207)"/>
<rect x="915.0" y="193.7" width="15" height="15" fill="rgb(228, 218, 206)"/>
<rect x="0.0" y="208.7" width="15" height="15" fill="rgb(235, 226, 208)"/>
<rect x="15.0" y="208.7" width="15" height="15" fill="rgb(230, 219, 206)"/>
<rect x="30.0" y="208.7" width="15" height="15" fill="rgb(234, 224, 208)"/>
<rect x="495.0" y="208.7" width="15" height="15" fill="rgb(227, 217, 208)"/>
<rect x="855.0" y="208.7" width="15" height="15" fill="rgb(230, 219, 206)"/>
<rect x="870.0" y="208.7" width="15" height="15" fill="rgb(231, 220, 205)"/>
<rect x="885.0" y="208.7" width="15" height="15" fill="rgb(231, 220, 205)"/>
<rect x="900.0" y="208.7" width="15" height="15" fill="rgb(227, 217, 208)"/>
<rect x="915.0" y="208.7" width="15" height="15" fill="rgb(226, 216, 208)"/>
<rect x="0.0" y="223.7" width="15" height="15" fill="rgb(231, 220, 205)"/>
<rect x="15.0" y="223.7" width="15" height="15" fill="rgb(230, 219, 206)"/>
<rect x="30.0" y="223.7" width="15" height="15" fill="rgb(231, 221, 207)"/>
<rect x="495.0" y="223.7" width="15" height="15" fill="rgb(231, 221, 207)"/>
<rect x="855.0" y="223.7" width="15" height="15" fill="rgb(231, 220, 205)"/>
<rect x="870.0" y="223.7" width="15" height="15" fill="rgb(226, 216, 208)"/>
<rect x="885.0" y="223.7" width="15" height="15" fill="rgb(231, 220, 205)"/>
<rect x="900.0" y="223.7" width="15" height="15" fill="rgb(227, 217, 208)"/>
<rect x="915.0" y="223.7" width="15" height="15" fill="rgb(231, 220, 205)"/>
<rect x="0.0" y="238.7" width="15" height="15" fill="rgb(234, 224, 208)"/>
<rect x="15.0" y="238.7" width="15" height="15" fill="rgb(234, 224, 208)"/>
<rect x="30.0" y="238.7" width="15" height="15" fill="rgb(228, 218, 206)"/>
<rect x="495.0" y="238.7" width="15" height="15" fill="rgb(230, 219, 206)"/>
<rect x="855.0" y="238.7" width="15" height="15" fill="rgb(230, 219, 206)"/>
<rect x="870.0" y="238.7" width="15" height="15" fill="rgb(228, 218, 206)"/>
<rect x="885.0" y="238.7" width="15" height="15" fill="rgb(230, 219, 206)"/>
<rect x="900.0" y="238.7" width="15" height="15" fill="rgb(231, 220, 205)"/>
<rect x="915.0" y="238.7" width="15" height="15" fill="rgb(227, 217, 208)"/>
<rect x="0.0" y="253.7" width="15" height="15" fill="rgb(227, 217, 208)"/>
<rect x="15.0" y="253.7" width="15" height="15" fill="rgb(227, 217, 208)"/>
<rect x="30.0" y="253.7" width="15" height="15" fill="rgb(234, 224, 208)"/>
<rect x="495.0" y="253.7" width="15" height="15" fill="rgb(231, 221, 207)"/>
<rect x="855.0" y="253.7" width="15" height="15" fill="rgb(230, 219, 206)"/>
<rect x="870.0" y="253.7" width="15" height="15" fill="rgb(226, 216, 208)"/>
<rect x="885.0" y="253.7" width="15" height="15" fill="rgb(226, 216, 208)"/>
<rect x="900.0" y="253.7" width="15" height="15" fill="rgb(231, 221, 207)"/>
<rect x="915.0" y="253.7" width="15" height="15" fill="rgb(231, 221, 207)"/>
<rect x="0.0" y="268.7" width="15" height="15" fill="rgb(234, 224, 208)"/>
<rect x="15.0" y="268.7" width="15" height="15" fill="rgb(230, 219, 206)"/>
<rect x="30.0" y="268.7" width="15" height="15" fill="rgb(226, 216, 208)"/>
<rect x="495.0" y="268.7" width="15" height="15" fill="rgb(228, 218, 206)"/>
<rect x="855.0" y="268.7" width="15" height="15" fill="rgb(230, 219, 206)"/>
<rect x="870.0" y="268.7" width="15" height="15" fill="rgb(228, 218, 206)"/>
<rect x="885.0" y="268.7" width="15" height="15" fill="rgb(234, 224, 208)"/>
<rect x="900.0" y="268.7" width="15" height="15" fill="rgb(228, 218, 206)"/>
<rect x="915.0" y="268.7" width="15" height="15" fill="rgb(226, 216, 208)"/>
<rect x="0.0" y="283.7" width="15" height="15" fill="rgb(235, 226, 208)"/>
<rect x="15.0" y="283.7" width="15" height="15" fill="rgb(231, 221, 207)"/>
<rect x="30.0" y="283.7" width="15" height="15" fill="rgb(228, 218, 206)"/>
<rect x="495.0" y="283.7" width="15" height="15" fill="rgb(231, 221, 207)"/>
<rect x="855.0" y="283.7" width="15" height="15" fill="rgb(234, 224, 208)"/>
<rect x="870.0" y="283.7" width="15" height="15" fill="rgb(226, 216, 208)"/>
<rect x="885.0" y="283.7" width="15" height="15" fill="rgb(227, 217, 208)"/>
<rect x="900.0" y="283.7" width="15" height="15" fill="rgb(227, 217, 208)"/>
<rect x="915.0" y="283.7" width="15" height="15" fill="rgb(230, 219, 206)"/>
<rect x="0.0" y="298.7" width="15" height="15" fill="rgb(230, 219, 206)"/>
<rect x="15.0" y="298.7" width="15" height="15" fill="rgb(228, 218, 206)"/>
<rect x="30.0" y="298.7" width="15" height="15" fill="rgb(226, 216, 208)"/>
<rect x="495.0" y="298.7" width="15" height="15" fill="rgb(228, 218, 206)"/>
<rect x="855.0" y="298.7" width="15" height="15" fill="rgb(227, 217, 208)"/>
<rect x="870.0" y="298.7" width="15" height="15" fill="rgb(230, 219, 206)"/>
<rect x="885.0" y="298.7" width="15" height="15" fill="rgb(230, 219, 206)"/>
<rect x="900.0" y="298.7" width="15" height="15" fill="rgb(228, 218, 206)"/>
<rect x="915.0" y="298.7" width="15" height="15" fill="rgb(234, 224, 208)"/>
<rect x="0.0" y="313.7" width="15" height="15" fill="rgb(234, 224, 208)"/>
<rect x="15.0" y="313.7" width="15" height="15" fill="rgb(234, 224, 208)"/>
<rect x="30.0" y="313.7" width="15" height="15" fill="rgb(228, 218, 206)"/>
<rect x="495.0" y="313.7" width="15" height="15" fill="rgb(231, 221, 207)"/>
<rect x="855.0" y="313.7" width="15" height="15" fill="rgb(231, 221, 207)"/>
<rect x="870.0" y="313.7" width="15" height="15" fill="rgb(231, 221, 207)"/>
<rect x="885.0" y="313.7" width="15" height="15" fill="rgb(230, 219, 206)"/>
<rect x="900.0" y="313.7" width="15" height="15" fill="rgb(231, 220, 205)"/>
<rect x="915.0" y="313.7" width="15" height="15" fill="rgb(228, 218, 206)"/>
<rect x="0.0" y="328.7" width="15" height="15" fill="rgb(235, 226, 208)"/>
<rect x="15.0" y="328.7" width="15" height="15" fill="rgb(231, 220, 205)"/>
<rect x="30.0" y="328.7" width="15" height="15" fill="rgb(230, 219, 206)"/>
<rect x="495.0" y="328.7" width="15" height="15" fill="rgb(231, 221, 207)"/>
<rect x="855.0" y="328.7" width="15" height="15" fill="rgb(231, 220, 205)"/>
<rect x="870.0" y="328.7" width="15" height="15" fill="rgb(235, 226, 208)"/>
<rect x="885.0" y="328.7" width="15" height="15" fill="rgb(231, 221, 207)"/>
<rect x="900.0" y="328.7" width="15" height="15" fill="rgb(228, 218, 206)"/>
<rect x="915.0" y="328.7" width="15" height="15" fill="rgb(228, 218, 206)"/>
<rect x="0.0" y="343.7" width="15" height="15" fill="rgb(231, 220, 205)"/>
<rect x="15.0" y="343.7" width="15" height="15" fill="rgb(228, 218, 206)"/>
<rect x="30.0" y="343.7" width="15" height="15" fill="rgb(227, 217, 208)"/>
<rect x="495.0" y="343.7" width="15" height="15" fill="rgb(230, 219, 206)"/>
<rect x="855.0" y="343.7" width="15" height="15" fill="rgb(231, 221, 207)"/>
<rect x="870.0" y="343.7" width="15" height="15" fill="rgb(231, 220, 205)"/>
<rect x="885.0" y="343.7" width="15" height="15" fill="rgb(230, 219, 206)"/>
<rect x="900.0" y="343.7" width="15" height="15" fill="rgb(231, 220, 205)"/>
<rect x="915.0" y="343.7" width="15" height="15" fill="rgb(231, 221, 207)"/>
<rect x="0.0" y="358.7" width="15" height="15" fill="rgb(231, 220, 205)"/>
<rect x="15.0" y="358.7" width="15" height="15" fill="rgb(234, 224, 208)"/>
<rect x="30.0" y="358.7" width="15" height="15" fill="rgb(228, 218, 206)"/>
<rect x="495.0" y="358.7" width="15" height="15" fill="rgb(231, 220, 205)"/>
<rect x="855.0" y="358.7" width="15" height="15" fill="rgb(231, 221, 207)"/>
<rect x="870.0" y="358.7" width="15" height="15" fill="rgb(230, 219, 206)"/>
<rect x="885.0" y="358.7" width="15" height="15" fill="rgb(230, 219, 206)"/>
<rect x="900.0" y="358.7" width="15" height="15" fill="rgb(231, 221, 207)"/>
<rect x="915.0" y="358.7" width="15" height="15" fill="rgb(231, 221, 207)"/>
<rect x="0.0" y="373.7" width="15" height="15" fill="rgb(228, 218, 206)"/>
<rect x="15.0" y="373.7" width="15" height="15" fill="rgb(230, 219, 206)"/>
<rect x="30.0" y="373.7" width="15" height="15" fill="rgb(228, 218, 206)"/>
<rect x="495.0" y="373.7" width="15" height="15" fill="rgb(228, 218, 206)"/>
<rect x="855.0" y="373.7" width="15" height="15" fill="rgb(231, 220, 205)"/>
<rect x="870.0" y="373.7" width="15" height="15" fill="rgb(230, 219, 206)"/>
<rect x="885.0" y="373.7" width="15" height="15" fill="rgb(226, 216, 208)"/>
<rect x="900.0" y="373.7" width="15" height="15" fill="rgb(231, 220, 205)"/>
<rect x="915.0" y="373.7" width="15" height="15" fill="rgb(230, 219, 206)"/>
<rect x="0.0" y="388.7" width="15" height="15" fill="rgb(231, 220, 205)"/>
<rect x="15.0" y="388.7" width="15" height="15" fill="rgb(234, 224, 208)"/>
<rect x="30.0" y="388.7" width="15" height="15" fill="rgb(231, 220, 205)"/>
<rect x="495.0" y="388.7" width="15" height="15" fill="rgb(228, 218, 206)"/>
<rect x="855.0" y="388.7" width="15" height="15" fill="rgb(228, 218, 206)"/>
<rect x="870.0" y="388.7" width="15" height="15" fill="rgb(231, 221, 207)"/>
<rect x="885.0" y="388.7" width="15" height="15" fill="rgb(235, 226, 208)"/>
<rect x="900.0" y="388.7" width="15" height="15" fill="rgb(227, 217, 208)"/>
<rect x="915.0" y="388.7" width="15" height="15" fill="rgb(228, 218, 206)"/>
<rect x="0.0" y="403.7" width="15" height="15" fill="rgb(231, 221, 207)"/>
<rect x="15.0" y="403.7" width="15" height="15" fill="rgb(228, 218, 206)"/>
<rect x="30.0" y="403.7" width="15" height="15" fill="rgb(230, 219, 206)"/>
<rect x="495.0" y="403.7" width="15" height="15" fill="rgb(230, 219, 206)"/>
<rect x="855.0" y="403.7" width="15" height="15" fill="rgb(231, 220, 205)"/>
<rect x="870.0" y="403.7" width="15" height="15" fill="rgb(228, 218, 206)"/>
<rect x="885.0" y="403.7" width="15" height="15" fill="rgb(231, 220, 205)"/>
<rect x="900.0" y="403.7" width="15" height="15" fill="rgb(228, 218, 206)"/>
<rect x="915.0" y="403.7" width="15" height="15" fill="rgb(228, 218, 206)"/>
<rect x="0.0" y="418.7" width="15" height="15" fill="rgb(231, 221, 207)"/>
<rect x="15.0" y="418.7" width="15" height="15" fill="rgb(230, 219, 206)"/>
<rect x="30.0" y="418.7" width="15" height="15" fill="rgb(228, 218, 206)"/>
<rect x="495.0" y="418.7" width="15" height="15" fill="rgb(231, 220, 205)"/>
<rect x="855.0" y="418.7" width="15" height="15" fill="rgb(231, 220, 205)"/>
<rect x="870.0" y="418.7" width="15" height="15" fill="rgb(231, 220, 205)"/>
<rect x="885.0" y="418.7" width="15" height="15" fill="rgb(227, 217, 208)"/>
<rect x="900.0" y="418.7" width="15" height="15" fill="rgb(231, 220, 205)"/>
<rect x="915.0" y="418.7" width="15" height="15" fill="rgb(231, 220, 205)"/>
<rect x="0.0" y="433.7" width="15" height="15" fill="rgb(227, 217, 208)"/>
<rect x="15.0" y="433.7" width="15" height="15" fill="rgb(234, 224, 208)"/>
<rect x="30.0" y="433.7" width="15" height="15" fill="rgb(230, 219, 206)"/>
<rect x="495.0" y="433.7" width="15" height="15" fill="rgb(226, 216, 208)"/>
<rect x="855.0" y="433.7" width="15" height="15" fill="rgb(231, 221, 207)"/>
<rect x="870.0" y="433.7" width="15" height="15" fill="rgb(226, 216, 208)"/>
<rect x="885.0" y="433.7" width="15" height="15" fill="rgb(227, 217, 208)"/>
<rect x="900.0" y="433.7" width="15" height="15" fill="rgb(228, 218, 206)"/>
<rect x="915.0" y="433.7" width="15" height="15" fill="rgb(230, 219, 206)"/>
<rect x="0.0" y="448.7" width="15" height="15" fill="rgb(231, 220, 205)"/>
<rect x="15.0" y="448.7" width="15" height="15" fill="rgb(230, 219, 206)"/>
<rect x="30.0" y="448.7" width="15" height="15" fill="rgb(231, 221, 207)"/>
<rect x="495.0" y="448.7" width="15" height="15" fill="rgb(228, 218, 206)"/>
<rect x="855.0" y="448.7" width="15" height="15" fill="rgb(228, 218, 206)"/>
<rect x="870.0" y="448.7" width="15" height="15" fill="rgb(226, 216, 208)"/>
<rect x="885.0" y="448.7" width="15" height="15" fill="rgb(235, 226, 208)"/>
<rect x="900.0" y="448.7" width="15" height="15" fill="rgb(228, 218, 206)"/>
<rect x="915.0" y="448.7" width="15" height="15" fill="rgb(234, 224, 208)"/>
<rect x="0.0" y="463.7" width="15" height="15" fill="rgb(228, 218, 206)"/>
<rect x="15.0" y="463.7" width="15" height="15" fill="rgb(227, 217, 208)"/>
<rect x="30.0" y="463.7" width="15" height="15" fill="rgb(231, 221, 207)"/>
<rect x="45.0" y="463.7" width="15" height="15" fill="rgb(230, 219, 206)"/>
<rect x="60.0" y="463.7" width="15" height="15" fill="rgb(230, 219, 206)"/>
<rect x="75.0" y="463.7" width="15" height="15" fill="rgb(228, 218, 206)"/>
<rect x="90.0" y="463.7" width="15" height="15" fill="rgb(231, 220, 205)"/>
<rect x="105.0" y="463.7" width="15" height="15" fill="rgb(231, 221, 207)"/>
<rect x="120.0" y="463.7" width="15" height="15" fill="rgb(228, 218, 206)"/>
<rect x="135.0" y="463.7" width="15" height="15" fill="rgb(231, 220, 205)"/>
<rect x="150.0" y="463.7" width="15" height="15" fill="rgb(235, 226, 208)"/>
<rect x="165.0" y="463.7" width="15" height="15" fill="rgb(231, 221, 207)"/>
<rect x="180.0" y="463.7" width="15" height="15" fill="rgb(230, 219, 206)"/>
<rect x="195.0" y="463.7" width="15" height="15" fill="rgb(228, 218, 206)"/>
<rect x="210.0" y="463.7" width="15" height="15" fill="rgb(230, 219, 206)"/>
<rect x="225.0" y="463.7" width="15" height="15" fill="rgb(228, 218, 206)"/>
<rect x="240.0" y="463.7" width="15" height="15" fill="rgb(230, 219, 206)"/>
<rect x="255.0" y="463.7" width="15" height="15" fill="rgb(228, 218, 206)"/>
<rect x="270.0" y="463.7" width="15" height="15" fill="rgb(228, 218, 206)"/>
<rect x="285.0" y="463.7" width="15" height="15" fill="rgb(227, 217, 208)"/>
<rect x="300.0" y="463.7" width="15" height="15" fill="rgb(231, 220, 205)"/>
<rect x="315.0" y="463.7" width="15" height="15" fill="rgb(226, 216, 208)"/>
<rect x="330.0" y="463.7" width="15" height="15" fill="rgb(231, 221, 207)"/>
<rect x="345.0" y="463.7" width="15" height="15" fill="rgb(231, 221, 207)"/>
<rect x="360.0" y="463.7" width="15" height="15" fill="rgb(231, 221, 207)"/>
<rect x="375.0" y="463.7" width="15" height="15" fill="rgb(228, 218, 206)"/>
<rect x="390.0" y="463.7" width="15" height="15" fill="rgb(228, 218, 206)"/>
<rect x="405.0" y="463.7" width="15" height="15" fill="rgb(230, 219, 206)"/>
<rect x="420.0" y="463.7" width="15" height="15" fill="rgb(228, 218, 206)"/>
<rect x="435.0" y="463.7" width="15" height="15" fill="rgb(235, 226, 208)"/>
<rect x="450.0" y="463.7" width="15" height="15" fill="rgb(230, 219, 206)"/>
<rect x="465.0" y="463.7" width="15" height="15" fill="rgb(231, 221, 207)"/>
<rect x="480.0" y="463.7" width="15" height="15" fill="rgb(227, 217, 208)"/>
<rect x="495.0" y="463.7" width="15" height="15" fill="rgb(231, 220, 205)"/>
<rect x="510.0" y="463.7" width="15" height="15" fill="rgb(228, 218, 206)"/>
<rect x="525.0" y="463.7" width="15" height="15" fill="rgb(228, 218, 206)"/>
<rect x="540.0" y="463.7" width="15" height="15" fill="rgb(228, 218, 206)"/>
<rect x="555.0" y="463.7" width="15" height="15" fill="rgb(231, 221, 207)"/>
<rect x="570.0" y="463.7" width="15" height="15" fill="rgb(231, 221, 207)"/>
<rect x="585.0" y="463.7" width="15" height="15" fill="rgb(231, 220, 205)"/>
<rect x="600.0" y="463.7" width="15" height="15" fill="rgb(231, 220, 205)"/>
<rect x="615.0" y="463.7" width="15" height="15" fill="rgb(231, 220, 205)"/>
<rect x="630.0" y="463.7" width="15" height="15" fill="rgb(230, 219, 206)"/>
<rect x="645.0" y="463.7" width="15" height="15" fill="rgb(230, 219, 206)"/>
<rect x="660.0" y="463.7" width="15" height="15" fill="rgb(234, 224, 208)"/>
<rect x="675.0" y="463.7" width="15" height="15" fill="rgb(231, 220, 205)"/>
<rect x="690.0" y="463.7" width="15" height="15" fill="rgb(231, 221, 207)"/>
<rect x="705.0" y="463.7" width="15" height="15" fill="rgb(227, 217, 208)"/>
<rect x="720.0" y="463.7" width="15" height="15" fill="rgb(230, 219, 206)"/>
<rect x="735.0" y="463.7" width="15" height="15" fill="rgb(231, 221, 207)"/>
<rect x="750.0" y="463.7" width="15" height="15" fill="rgb(231, 220, 205)"/>
<rect x="765.0" y="463.7" width="15" height="15" fill="rgb(231, 220, 205)"/>
<rect x="780.0" y="463.7" width="15" height="15" fill="rgb(231, 220, 205)"/>
<rect x="795.0" y="463.7" width="15" height="15" fill="rgb(235, 226, 208)"/>
<rect x="810.0" y="463.7" width="15" height="15" fill="rgb(228, 218, 206)"/>
<rect x="825.0" y="463.7" width="15" height="15" fill="rgb(230, 219, 206)"/>
<rect x="840.0" y="463.7" width="15" height="15" fill="rgb(230, 219, 206)"/>
<rect x="855.0" y="463.7" width="15" height="15" fill="rgb(231, 221, 207)"/>
<rect x="870.0" y="463.7" width="15" height="15" fill="rgb(234, 224, 208)"/>
<rect x="885.0" y="463.7" width="15" height="15" fill="rgb(231, 220, 205)"/>
<rect x="900.0" y="463.7" width="15" height="15" fill="rgb(234, 224, 208)"/>
<rect x="915.0" y="463.7" width="15" height="15" fill="rgb(227, 217, 208)"/>
<rect x="0.0" y="478.7" width="15" height="15" fill="rgb(226, 216, 208)"/>
<rect x="15.0" y="478.7" width="15" height="15" fill="rgb(231, 221, 207)"/>
<rect x="30.0" y="478.7" width="15" height="15" fill="rgb(227, 217, 208)"/>
<rect x="45.0" y="478.7" width="15" height="15" fill="rgb(230, 219, 206)"/>
<rect x="60.0" y="478.7" width="15" height="15" fill="rgb(226, 216, 208)"/>
<rect x="75.0" y="478.7" width="15" height="15" fill="rgb(228, 218, 206)"/>
<rect x="90.0" y="478.7" width="15" height="15" fill="rgb(231, 220, 205)"/>
<rect x="105.0" y="478.7" width="15" height="15" fill="rgb(227, 217, 208)"/>
<rect x="120.0" y="478.7" width="15" height="15" fill="rgb(228, 218, 206)"/>
<rect x="135.0" y="478.7" width="15" height="15" fill="rgb(230, 219, 206)"/>
<rect x="150.0" y="478.7" width="15" height="15" fill="rgb(228, 218, 206)"/>
<rect x="165.0" y="478.7" width="15" height="15" fill="rgb(227, 217, 208)"/>
<rect x="180.0" y="478.7" width="15" height="15" fill="rgb(234, 224, 208)"/>
<rect x="195.0" y="478.7" width="15" height="15" fill="rgb(230, 219, 206)"/>
<rect x="210.0" y="478.7" width="15" height="15" fill="rgb(230, 219, 206)"/>
<rect x="225.0" y="478.7" width="15" height="15" fill="rgb(231, 221, 207)"/>
<rect x="240.0" y="478.7" width="15" height="15" fill="rgb(227, 217, 208)"/>
<rect x="255.0" y="478.7" width="15" height="15" fill="rgb(231, 221, 207)"/>
<rect x="270.0" y="478.7" width="15" height="15" fill="rgb(228, 218, 206)"/>
<rect x="285.0" y="478.7" width="15" height="15" fill="rgb(227, 217, 208)"/>
<rect x="300.0" y="478.7" width="15" height="15" fill="rgb(230, 219, 206)"/>
<rect x="315.0" y="478.7" width="15" height="15" fill="rgb(228, 218, 206)"/>
<rect x="330.0" y="478.7" width="15" height="15" fill="rgb(231, 221, 207)"/>
<rect x="345.0" y="478.7" width="15" height="15" fill="rgb(231, 220, 205)"/>
<rect x="360.0" y="478.7" width="15" height="15" fill="rgb(227, 217, 208)"/>
<rect x="375.0" y="478.7" width="15" height="15" fill="rgb(231, 220, 205)"/>
<rect x="390.0" y="478.7" width="15" height="15" fill="rgb(231, 221, 207)"/>
<rect x="405.0" y="478.7" width="15" height="15" fill="rgb(228, 218, 206)"/>
<rect x="420.0" y="478.7" width="15" height="15" fill="rgb(228, 218, 206)"/>
<rect x="435.0" y="478.7" width="15" height="15" fill="rgb(231, 220, 205)"/>
<rect x="450.0" y="478.7" width="15" height="15" fill="rgb(234, 224, 208)"/>
<rect x="465.0" y="478.7" width="15" height="15" fill="rgb(228, 218, 206)"/>
<rect x="480.0" y="478.7" width="15" height="15" fill="rgb(230, 219, 206)"/>
<rect x="495.0" y="478.7" width="15" height="15" fill="rgb(231, 221, 207)"/>
<rect x="510.0" y="478.7" width="15" height="15" fill="rgb(234, 224, 208)"/>
<rect x="525.0" y="478.7" width="15" height="15" fill="rgb(231, 221, 207)"/>
<rect x="540.0" y="478.7" width="15" height="15" fill="rgb(228, 218, 206)"/>
<rect x="555.0" y="478.7" width="15" height="15" fill="rgb(234, 224, 208)"/>
<rect x="570.0" y="478.7" width="15" height="15" fill="rgb(231, 220, 205)"/>
<rect x="585.0" y="478.7" width="15" height="15" fill="rgb(228, 218, 206)"/>
<rect x="600.0" y="478.7" width="15" height="15" fill="rgb(230, 219, 206)"/>
<rect x="615.0" y="478.7" width="15" height="15" fill="rgb(228, 218, 206)"/>
<rect x="630.0" y="478.7" width="15" height="15" fill="rgb(231, 221, 207)"/>
<rect x="645.0" y="478.7" width="15" height="15" fill="rgb(234, 224, 208)"/>
<rect x="660.0" y="478.7" width="15" height="15" fill="rgb(228, 218, 206)"/>
<rect x="675.0" y="478.7" width="15" height="15" fill="rgb(226, 216, 208)"/>
<rect x="690.0" y="478.7" width="15" height="15" fill="rgb(226, 216, 208)"/>
<rect x="705.0" y="478.7" width="15" height="15" fill="rgb(231, 221, 207)"/>
<rect x="720.0" y="478.7" width="15" height="15" fill="rgb(228, 218, 206)"/>
<rect x="735.0" y="478.7" width="15" height="15" fill="rgb(235, 226, 208)"/>
<rect x="750.0" y="478.7" width="15" height="15" fill="rgb(228, 218, 206)"/>
<rect x="765.0" y="478.7" width="15" height="15" fill="rgb(231, 220, 205)"/>
<rect x="780.0" y="478.7" width="15" height="15" fill="rgb(228, 218, 206)"/>
<rect x="795.0" y="478.7" width="15" height="15" fill="rgb(228, 218, 206)"/>
<rect x="810.0" y="478.7" width="15" height="15" fill="rgb(226, 216, 208)"/>
<rect x="825.0" y="478.7" width="15" height="15" fill="rgb(228, 218, 206)"/>
<rect x="840.0" y="478.7" width="15" height="15" fill="rgb(231, 220, 205)"/>
<rect x="855.0" y="478.7" width="15" height="15" fill="rgb(231, 221, 207)"/>
<rect x="870.0" y="478.7" width="15" height="15" fill="rgb(230, 219, 206)"/>
<rect x="885.0" y="478.7" width="15" height="15" fill="rgb(228, 218, 206)"/>
<rect x="900.0" y="478.7" width="15" height="15" fill="rgb(231, 221, 207)"/>
<rect x="915.0" y="478.7" width="15" height="15" fill="rgb(234, 224, 208)"/>
<rect x="0.0" y="493.7" width="15" height="15" fill="rgb(231, 220, 205)"/>
<rect x="15.0" y="493.7" width="15" height="15" fill="rgb(230, 219, 206)"/>
<rect x="30.0" y="493.7" width="15" height="15" fill="rgb(231, 221, 207)"/>
<rect x="45.0" y="493.7" width="15" height="15" fill="rgb(228, 218, 206)"/>
<rect x="60.0" y="493.7" width="15" height="15" fill="rgb(235, 226, 208)"/>
<rect x="75.0" y="493.7" width="15" height="15" fill="rgb(230, 219, 206)"/>
<rect x="90.0" y="493.7" width="15" height="15" fill="rgb(230, 219, 206)"/>
<rect x="105.0" y="493.7" width="15" height="15" fill="rgb(230, 219, 206)"/>
<rect x="120.0" y="493.7" width="15" height="15" fill="rgb(231, 221, 207)"/>
<rect x="135.0" y="493.7" width="15" height="15" fill="rgb(231, 220, 205)"/>
<rect x="150.0" y="493.7" width="15" height="15" fill="rgb(231, 220, 205)"/>
<rect x="165.0" y="493.7" width="15" height="15" fill="rgb(226, 216, 208)"/>
<rect x="180.0" y="493.7" width="15" height="15" fill="rgb(235, 226, 208)"/>
<rect x="195.0" y="493.7" width="15" height="15" fill="rgb(231, 220, 205)"/>
<rect x="210.0" y="493.7" width="15" height="15" fill="rgb(228, 218, 206)"/>
<rect x="225.0" y="493.7" width="15" height="15" fill="rgb(230, 219, 206)"/>
<rect x="240.0" y="493.7" width="15" height="15" fill="rgb(231, 220, 205)"/>
<rect x="255.0" y="493.7" width="15" height="15" fill="rgb(226, 216, 208)"/>
<rect x="270.0" y="493.7" width="15" height="15" fill="rgb(230, 219, 206)"/>
<rect x="285.0" y="493.7" width="15" height="15" fill="rgb(234, 224, 208)"/>
<rect x="300.0" y="493.7" width="15" height="15" fill="rgb(228, 218, 206)"/>
<rect x="315.0" y="493.7" width="15" height="15" fill="rgb(228, 218, 206)"/>
<rect x="330.0" y="493.7" width="15" height="15" fill="rgb(228, 218, 206)"/>
<rect x="345.0" y="493.7" width="15" height="15" fill="rgb(230, 219, 206)"/>
<rect x="360.0" y="493.7" width="15" height="15" fill="rgb(230, 219, 206)"/>
<rect x="375.0" y="493.7" width="15" height="15" fill="rgb(228, 218, 206)"/>
<rect x="390.0" y="493.7" width="15" height="15" fill="rgb(228, 218, 206)"/>
<rect x="405.0" y="493.7" width="15" height="15" fill="rgb(231, 220, 205)"/>
<rect x="420.0" y="493.7" width="15" height="15" fill="rgb(230, 219, 206)"/>
<rect x="435.0" y="493.7" width="15" height="15" fill="rgb(235, 226, 208)"/>
<rect x="450.0" y="493.7" width="15" height="15" fill="rgb(228, 218, 206)"/>
<rect x="465.0" y="493.7" width="15" height="15" fill="rgb(228, 218, 206)"/>
<rect x="480.0" y="493.7" width="15" height="15" fill="rgb(231, 220, 205)"/>
<rect x="495.0" y="493.7" width="15" height="15" fill="rgb(231, 220, 205)"/>
<rect x="510.0" y="493.7" width="15" height="15" fill="rgb(231, 221, 207)"/>
<rect x="525.0" y="493.7" width="15" height="15" fill="rgb(230, 219, 206)"/>
<rect x="540.0" y="493.7" width="15" height="15" fill="rgb(231, 221, 207)"/>
<rect x="555.0" y="493.7" width="15" height="15" fill="rgb(228, 218, 206)"/>
<rect x="570.0" y="493.7" width="15" height="15" fill="rgb(231, 220, 205)"/>
<rect x="585.0" y="493.7" width="15" height="15" fill="rgb(228, 218, 206)"/>
<rect x="600.0" y="493.7" width="15" height="15" fill="rgb(228, 218, 206)"/>
<rect x="615.0" y="493.7" width="15" height="15" fill="rgb(231, 220, 205)"/>
<rect x="630.0" y="493.7" width="15" height="15" fill="rgb(230, 219, 206)"/>
<rect x="645.0" y="493.7" width="15" height="15" fill="rgb(231, 221, 207)"/>
<rect x="660.0" y="493.7" width="15" height="15" fill="rgb(231, 220, 205)"/>
<rect x="675.0" y="493.7" width="15" height="15" fill="rgb(226, 216, 208)"/>
<rect x="690.0" y="493.7" width="15" height="15" fill="rgb(230, 219, 206)"/>
<rect x="705.0" y="493.7" width="15" height="15" fill="rgb(230, 219, 206)"/>
<rect x="720.0" y="493.7" width="15" height="15" fill="rgb(230, 219, 206)"/>
<rect x="735.0" y="493.7" width="15" height="15" fill="rgb(231, 220, 205)"/>
<rect x="750.0" y="493.7" width="15" height="15" fill="rgb(228, 218, 206)"/>
<rect x="765.0" y="493.7" width="15" height="15" fill="rgb(226, 216, 208)"/>
<rect x="780.0" y="493.7" width="15" height="15" fill="rgb(231, 220, 205)"/>
<rect x="795.0" y="493.7" width="15" height="15" fill="rgb(228, 218, 206)"/>
<rect x="810.0" y="493.7" width="15" height="15" fill="rgb(228, 218, 206)"/>
<rect x="825.0" y="493.7" width="15" height="15" fill="rgb(231, 220, 205)"/>
<rect x="840.0" y="493.7" width="15" height="15" fill="rgb(227, 217, 208)"/>
<rect x="855.0" y="493.7" width="15" height="15" fill="rgb(228, 218, 206)"/>
<rect x="870.0" y="493.7" width="15" height="15" fill="rgb(234, 224, 208)"/>
<rect x="885.0" y="493.7" width="15" height="15" fill="rgb(228, 218, 206)"/>
<rect x="900.0" y="493.7" width="15" height="15" fill="rgb(228, 218, 206)"/>
<rect x="915.0" y="493.7" width="15" height="15" fill="rgb(230, 219, 206)"/>
<rect x="0.0" y="508.7" width="15" height="15" fill="rgb(226, 216, 208)"/>
<rect x="15.0" y="508.7" width="15" height="15" fill="rgb(231, 220, 205)"/>
<rect x="30.0" y="508.7" width="15" height="15" fill="rgb(227, 217, 208)"/>
<rect x="45.0" y="508.7" width="15" height="15" fill="rgb(231, 220, 205)"/>
<rect x="60.0" y="508.7" width="15" height="15" fill="rgb(230, 219, 206)"/>
<rect x="75.0" y="508.7" width="15" height="15" fill="rgb(228, 218, 206)"/>
<rect x="90.0" y="508.7" width="15" height="15" fill="rgb(231, 221, 207)"/>
<rect x="105.0" y="508.7" width="15" height="15" fill="rgb(231, 220, 205)"/>
<rect x="120.0" y="508.7" width="15" height="15" fill="rgb(231, 220, 205)"/>
<rect x="135.0" y="508.7" width="15" height="15" fill="rgb(231, 221, 207)"/>
<rect x="150.0" y="508.7" width="15" height="15" fill="rgb(228, 218, 206)"/>
<rect x="165.0" y="508.7" width="15" height="15" fill="rgb(231, 221, 207)"/>
<rect x="180.0" y="508.7" width="15" height="15" fill="rgb(231, 221, 207)"/>
<rect x="195.0" y="508.7" width="15" height="15" fill="rgb(231, 220, 205)"/>
<rect x="210.0" y="508.7" width="15" height="15" fill="rgb(230, 219, 206)"/>
<rect x="225.0" y="508.7" width="15" height="15" fill="rgb(226, 216, 208)"/>
<rect x="240.0" y="508.7" width="15" height="15" fill="rgb(226, 216, 208)"/>
<rect x="255.0" y="508.7" width="15" height="15" fill="rgb(231, 220, 205)"/>
<rect x="270.0" y="508.7" width="15" height="15" fill="rgb(226, 216, 208)"/>
<rect x="285.0" y="508.7" width="15" height="15" fill="rgb(227, 217, 208)"/>
<rect x="300.0" y="508.7" width="15" height="15" fill="rgb(228, 218, 206)"/>
<rect x="315.0" y="508.7" width="15" height="15" fill="rgb(228, 218, 206)"/>
<rect x="330.0" y="508.7" width="15" height="15" fill="rgb(228, 218, 206)"/>
<rect x="345.0" y="508.7" width="15" height="15" fill="rgb(226, 216, 208)"/>
<rect x="360.0" y="508.7" width="15" height="15" fill="rgb(230, 219, 206)"/>
<rect x="375.0" y="508.7" width="15" height="15" fill="rgb(228, 218, 206)"/>
<rect x="390.0" y="508.7" width="15" height="15" fill="rgb(226, 216, 208)"/>
<rect x="405.0" y="508.7" width="15" height="15" fill="rgb(228, 218, 206)"/>
<rect x="420.0" y="508.7" width="15" height="15" fill="rgb(230, 219, 206)"/>
<rect x="435.0" y="508.7" width="15" height="15" fill="rgb(230, 219, 206)"/>
<rect x="450.0" y="508.7" width="15" height="15" fill="rgb(227, 217, 208)"/>
<rect x="465.0" y="508.7" width="15" height="15" fill="rgb(228, 218, 206)"/>
<rect x="480.0" y="508.7" width="15" height="15" fill="rgb(235, 226, 208)"/>
<rect x="495.0" y="508.7" width="15" height="15" fill="rgb(231, 220, 205)"/>
<rect x="510.0" y="508.7" width="15" height="15" fill="rgb(235, 226, 208)"/>
<rect x="525.0" y="508.7" width="15" height="15" fill="rgb(228, 218, 206)"/>
<rect x="540.0" y="508.7" width="15" height="15" fill="rgb(230, 219, 206)"/>
<rect x="555.0" y="508.7" width="15" height="15" fill="rgb(230, 219, 206)"/>
<rect x="570.0" y="508.7" width="15" height="15" fill="rgb(231, 221, 207)"/>
<rect x="585.0" y="508.7" width="15" height="15" fill="rgb(234, 224, 208)"/>
<rect x="600.0" y="508.7" width="15" height="15" fill="rgb(231, 221, 207)"/>
<rect x="615.0" y="508.7" width="15" height="15" fill="rgb(228, 218, 206)"/>
<rect x="630.0" y="508.7" width="15" height="15" fill="rgb(231, 221, 207)"/>
<rect x="645.0" y="508.7" width="15" height="15" fill="rgb(227, 217, 208)"/>
<rect x="660.0" y="508.7" width="15" height="15" fill="rgb(234, 224, 208)"/>
<rect x="675.0" y="508.7" width="15" height="15" fill="rgb(226, 216, 208)"/>
<rect x="690.0" y="508.7" width="15" height="15" fill="rgb(231, 220, 205)"/>
<rect x="705.0" y="508.7" width="15" height="15" fill="rgb(234, 224, 208)"/>
<rect x="720.0" y="508.7" width="15" height="15" fill="rgb(230, 219, 206)"/>
<rect x="735.0" y="508.7" width="15" height="15" fill="rgb(231, 220, 205)"/>
<rect x="750.0" y="508.7" width="15" height="15" fill="rgb(228, 218, 206)"/>
<rect x="765.0" y="508.7" width="15" height="15" fill="rgb(227, 217, 208)"/>
<rect x="780.0" y="508.7" width="15" height="15" fill="rgb(228, 218, 206)"/>
<rect x="795.0" y="508.7" width="15" height="15" fill="rgb(226, 216, 208)"/>
<rect x="810.0" y="508.7" width="15" height="15" fill="rgb(228, 218, 206)"/>
<rect x="825.0" y="508.7" width="15" height="15" fill="rgb(228, 218, 206)"/>
<rect x="840.0" y="508.7" width="15" height="15" fill="rgb(228, 218, 206)"/>
<rect x="855.0" y="508.7" width="15" height="15" fill="rgb(230, 219, 206)"/>
<rect x="870.0" y="508.7" width="15" height="15" fill="rgb(231, 220, 205)"/>
<rect x="885.0" y="508.7" width="15" height="15" fill="rgb(227, 217, 208)"/>
<rect x="900.0" y="508.7" width="15" height="15" fill="rgb(228, 218, 206)"/>
<rect x="915.0" y="508.7" width="15" height="15" fill="rgb(231, 221, 207)"/>
</g>
<rect x="0" y="0" width="900" height="1" fill="#454242"/>
<g transform="translate(0,60) scale(1,1.04) translate(0,-60)">
<text y="60.0" font-size="22.5" font-weight="bold" fill="#3b3636" stroke="#3b3636" stroke-width="1.9" stroke-linejoin="miter" text-rendering="geometricPrecision"><tspan x="35.2" textLength="8.8" lengthAdjust="spacingAndGlyphs">С</tspan><tspan x="44.2" textLength="8.8" lengthAdjust="spacingAndGlyphs">Т</tspan><tspan x="53.2" textLength="9.1" lengthAdjust="spacingAndGlyphs">А</tspan><tspan x="62.5" textLength="10.0" lengthAdjust="spacingAndGlyphs">Т</tspan><tspan x="72.7" textLength="8.8" lengthAdjust="spacingAndGlyphs">И</tspan><tspan x="81.9" textLength="9.1" lengthAdjust="spacingAndGlyphs">С</tspan><tspan x="91.2" textLength="11.2" lengthAdjust="spacingAndGlyphs">Т</tspan><tspan x="102.6" textLength="9.1" lengthAdjust="spacingAndGlyphs">И</tspan><tspan x="112.5" textLength="8.8" lengthAdjust="spacingAndGlyphs">К</tspan><tspan x="121.5" textLength="9.4" lengthAdjust="spacingAndGlyphs">А</tspan></text>
</g>
<rect x="34.5" y="78.5" width="460" height="394" fill="#f4f3ec" stroke="#3b3636" stroke-width="3"/>
<rect x="508.5" y="78.5" width="356" height="394" fill="#f4f3ec" stroke="#3b3636" stroke-width="3"/>
<text y="114.7" font-size="23.5" font-weight="bold" fill="#3b3636" stroke="#3b3636" stroke-width="0.35"><tspan x="48.6" textLength="47.0" lengthAdjust="spacingAndGlyphs">ТОП–5</tspan> <tspan x="100.2" textLength="48.4" lengthAdjust="spacingAndGlyphs">стран</tspan> <tspan x="152.6" textLength="19.8" lengthAdjust="spacingAndGlyphs">по</tspan> <tspan x="176.6" textLength="97.4" lengthAdjust="spacingAndGlyphs">количеству</tspan> <tspan x="279.9" textLength="67.4" lengthAdjust="spacingAndGlyphs">игроков</tspan></text>
<text y="114.7" font-size="23.5" font-weight="bold" fill="#3b3636" stroke="#3b3636" stroke-width="0.35"><tspan x="521.7" textLength="46.9" lengthAdjust="spacingAndGlyphs">ТОП–5</tspan> <tspan x="573.4" textLength="102.4" lengthAdjust="spacingAndGlyphs">популярных</tspan> <tspan x="680.9" textLength="27.4" lengthAdjust="spacingAndGlyphs">игр</tspan> <tspan x="712.9" textLength="9.6" lengthAdjust="spacingAndGlyphs">в</tspan> <tspan x="728.9" textLength="21.6" lengthAdjust="spacingAndGlyphs">РФ</tspan></text>
<rect x="178.05" y="149" width="1" height="252" fill="#d6d4ce"/>
<rect x="223.75" y="149" width="1" height="252" fill="#d6d4ce"/>
<rect x="269.45" y="149" width="1" height="252" fill="#d6d4ce"/>
<rect x="315.15" y="149" width="1" height="252" fill="#d6d4ce"/>
<rect x="360.85" y="149" width="1" height="252" fill="#d6d4ce"/>
<rect x="406.55" y="149" width="1" height="252" fill="#d6d4ce"/>
<rect x="452.25" y="149" width="1" height="252" fill="#d6d4ce"/>
<rect x="132.2" y="166.2" width="302.4" height="30.5" rx="1.5" fill="#f0c132"/>
<text x="125.6" y="187.2" font-size="15.1" font-weight="normal" fill="#242121" text-anchor="end" textLength="35.1" lengthAdjust="spacingAndGlyphs">США</text>
<text x="143.9" y="189.5" font-size="18.2" font-weight="bold" fill="#3b3636" text-anchor="start" textLength="30.5" lengthAdjust="spacingAndGlyphs" stroke="#3b3636" stroke-width="0.8">66 M</text>
<rect x="132.2" y="213.1" width="133.3" height="30.5" rx="1.5" fill="#f0c132"/>
<text x="125.6" y="234.1" font-size="15.1" font-weight="normal" fill="#242121" text-anchor="end" textLength="70.1" lengthAdjust="spacingAndGlyphs">Бразилия</text>
<text x="143.9" y="236.5" font-size="18.2" font-weight="bold" fill="#3b3636" text-anchor="start" textLength="30.5" lengthAdjust="spacingAndGlyphs" stroke="#3b3636" stroke-width="0.8">29 M</text>
<rect x="132.2" y="260.2" width="85.8" height="30.5" rx="1.5" fill="#4aa825"/>
<text x="125.6" y="281.2" font-size="15.1" font-weight="normal" fill="#242121" text-anchor="end" textLength="50.2" lengthAdjust="spacingAndGlyphs">Россия</text>
<text x="143.9" y="283.2" font-size="18.2" font-weight="bold" fill="#ffffff" text-anchor="start" textLength="42" lengthAdjust="spacingAndGlyphs" stroke="#ffffff" stroke-width="0.8">18.6 M</text>
<rect x="132.2" y="307.6" width="73.9" height="30.5" rx="1.5" fill="#f0c132"/>
<text x="125.6" y="328.2" font-size="15.1" font-weight="normal" fill="#242121" text-anchor="end" textLength="43.9" lengthAdjust="spacingAndGlyphs">Китай</text>
<text x="143.9" y="330.4" font-size="18.2" font-weight="bold" fill="#3b3636" text-anchor="start" textLength="30.9" lengthAdjust="spacingAndGlyphs" stroke="#3b3636" stroke-width="0.8">16 M</text>
<rect x="132.2" y="354.5" width="67.1" height="30.5" rx="1.5" fill="#f0c132"/>
<text x="125.6" y="375.6" font-size="15.1" font-weight="normal" fill="#242121" text-anchor="end" textLength="54.9" lengthAdjust="spacingAndGlyphs">Япония</text>
<text x="143.9" y="377.09999999999997" font-size="18.2" font-weight="bold" fill="#3b3636" text-anchor="start" textLength="42" lengthAdjust="spacingAndGlyphs" stroke="#3b3636" stroke-width="0.8">14.5 M</text>
<rect x="132.00" y="149" width="1" height="252" fill="#6e6a6a"/>
<text x="133.0" y="426" font-size="16.2" font-weight="normal" fill="#1e1c1c" text-anchor="middle" textLength="8.5" lengthAdjust="spacingAndGlyphs">0</text>
<text x="178.8" y="426" font-size="16.2" font-weight="normal" fill="#1e1c1c" text-anchor="middle" textLength="17.0" lengthAdjust="spacingAndGlyphs">10</text>
<text x="224.4" y="426" font-size="16.2" font-weight="normal" fill="#1e1c1c" text-anchor="middle" textLength="17.0" lengthAdjust="spacingAndGlyphs">20</text>
<text x="270.2" y="426" font-size="16.2" font-weight="normal" fill="#1e1c1c" text-anchor="middle" textLength="17.0" lengthAdjust="spacingAndGlyphs">30</text>
<text x="315.8" y="426" font-size="16.2" font-weight="normal" fill="#1e1c1c" text-anchor="middle" textLength="17.0" lengthAdjust="spacingAndGlyphs">40</text>
<text x="361.6" y="426" font-size="16.2" font-weight="normal" fill="#1e1c1c" text-anchor="middle" textLength="17.0" lengthAdjust="spacingAndGlyphs">50</text>
<text x="407.3" y="426" font-size="16.2" font-weight="normal" fill="#1e1c1c" text-anchor="middle" textLength="17.0" lengthAdjust="spacingAndGlyphs">60</text>
<text x="452.9" y="426" font-size="16.2" font-weight="normal" fill="#1e1c1c" text-anchor="middle" textLength="17.0" lengthAdjust="spacingAndGlyphs">70</text>
<rect x="295.5" y="260.6" width="169.9" height="88.9" fill="#fdf0c3" stroke="#3b3636" stroke-width="1.6"/>
<rect x="209" y="274.05" width="93" height="1.5" fill="#3b3636"/>
<circle cx="209.2" cy="274.8" r="3.9" fill="#3b3636"/>
<circle cx="304.8" cy="274.8" r="3.3" fill="#fffcf2" stroke="#3b3636" stroke-width="1.5"/>
<text x="380.3" y="298.7" font-size="27.4" font-weight="bold" fill="#3b3636" text-anchor="middle" textLength="68.5" lengthAdjust="spacingAndGlyphs" stroke="#3b3636" stroke-width="0.35">+4,5 %</text>
<text x="380.3" y="321.5" font-size="14.6" font-weight="bold" fill="#3b3636" text-anchor="middle" textLength="132.5" lengthAdjust="spacingAndGlyphs">Прирост игроков в России</text>
<text x="380.3" y="338.2" font-size="14.6" font-weight="bold" fill="#3b3636" text-anchor="middle" textLength="58.7" lengthAdjust="spacingAndGlyphs">за 2025 год</text>
<g>
<path d="M 694.00 222.30 A 64.75 45.50 0 0 1 756.82 256.76 L 756.82 275.76 A 64.75 45.50 0 0 0 694.00 241.30 Z" fill="#357c1b" stroke="#357c1b" stroke-width="0.6" stroke-linejoin="round"/>
<path d="M 756.82 256.76 L 819.63 245.72 L 819.63 264.72 L 756.82 275.76 Z" fill="#357c1b" stroke="#357c1b" stroke-width="0.6" stroke-linejoin="round"/>
<path d="M 694.00 176.80 A 129.50 91.00 0 0 1 819.63 245.72 L 756.82 256.76 A 64.75 45.50 0 0 0 694.00 222.30 Z" fill="#4aa825" stroke="#4aa825" stroke-width="0.6" stroke-linejoin="round"/>
<path d="M 748.82 263.76 A 64.75 45.50 0 0 1 750.75 274.80 L 750.75 293.80 A 64.75 45.50 0 0 0 748.82 282.76 Z" fill="#2b5f8e" stroke="#2b5f8e" stroke-width="0.6" stroke-linejoin="round"/>
<path d="M 621.25 274.80 A 64.75 45.50 0 0 1 686.00 229.30 L 686.00 248.30 A 64.75 45.50 0 0 0 621.25 293.80 Z" fill="#868686" stroke="#868686" stroke-width="0.6" stroke-linejoin="round"/>
<path d="M 815.50 274.80 A 129.50 91.00 0 0 1 787.82 331.03 L 787.82 350.03 A 129.50 91.00 0 0 0 815.50 293.80 Z" fill="#2b5f8e" stroke="#2b5f8e" stroke-width="0.6" stroke-linejoin="round"/>
<path d="M 787.82 331.03 A 129.50 91.00 0 0 1 718.21 362.94 L 718.21 381.94 A 129.50 91.00 0 0 0 787.82 350.03 Z" fill="#804305" stroke="#804305" stroke-width="0.6" stroke-linejoin="round"/>
<path d="M 718.21 362.94 A 129.50 91.00 0 0 1 637.57 359.20 L 637.57 378.20 A 129.50 91.00 0 0 0 718.21 381.94 Z" fill="#562d03" stroke="#562d03" stroke-width="0.6" stroke-linejoin="round"/>
<path d="M 637.57 359.20 A 129.50 91.00 0 0 1 584.18 331.03 L 584.18 350.03 A 129.50 91.00 0 0 0 637.57 378.20 Z" fill="#305b64" stroke="#305b64" stroke-width="0.6" stroke-linejoin="round"/>
<path d="M 584.18 331.03 A 129.50 91.00 0 0 1 556.50 274.80 L 556.50 293.80 A 129.50 91.00 0 0 0 584.18 350.03 Z" fill="#868686" stroke="#868686" stroke-width="0.6" stroke-linejoin="round"/>
<path d="M 811.63 252.72 A 129.50 91.00 0 0 1 787.82 331.03 L 736.91 302.91 A 64.75 45.50 0 0 0 748.82 263.76 Z" fill="#3d85c6" stroke="#3d85c6" stroke-width="0.6" stroke-linejoin="round"/>
<path d="M 787.82 331.03 A 129.50 91.00 0 0 1 718.21 362.94 L 702.10 318.87 A 64.75 45.50 0 0 0 736.91 302.91 Z" fill="#b45f06" stroke="#b45f06" stroke-width="0.6" stroke-linejoin="round"/>
<path d="M 718.21 362.94 A 129.50 91.00 0 0 1 637.57 359.20 L 661.79 317.00 A 64.75 45.50 0 0 0 702.10 318.87 Z" fill="#783f04" stroke="#783f04" stroke-width="0.6" stroke-linejoin="round"/>
<path d="M 637.57 359.20 A 129.50 91.00 0 0 1 584.18 331.03 L 635.09 302.91 A 64.75 45.50 0 0 0 661.79 317.00 Z" fill="#45818e" stroke="#45818e" stroke-width="0.6" stroke-linejoin="round"/>
<path d="M 584.18 331.03 A 129.50 91.00 0 0 1 686.00 183.80 L 686.00 229.30 A 64.75 45.50 0 0 0 635.09 302.91 Z" fill="#b7b7b7" stroke="#b7b7b7" stroke-width="0.6" stroke-linejoin="round"/>
</g>
<text x="754" y="219.5" font-size="14" font-weight="bold" fill="#ffffff" text-anchor="middle" textLength="51.5" lengthAdjust="spacingAndGlyphs" stroke="#ffffff" stroke-width="0.3">21.1%</text>
<text x="781.5" y="294.8" font-size="14" font-weight="bold" fill="#ffffff" text-anchor="middle" textLength="51.5" lengthAdjust="spacingAndGlyphs" stroke="#ffffff" stroke-width="0.3">14.5%</text>
<text x="739.4" y="337.6" font-size="14" font-weight="bold" fill="#ffffff" text-anchor="middle" textLength="51.5" lengthAdjust="spacingAndGlyphs" stroke="#ffffff" stroke-width="0.3">10.4%</text>
<text x="679.7" y="348" font-size="14" font-weight="bold" fill="#ffffff" text-anchor="middle" textLength="51.5" lengthAdjust="spacingAndGlyphs" stroke="#ffffff" stroke-width="0.3">10.1%</text>
<text x="627.5" y="335" font-size="14" font-weight="bold" fill="#ffffff" text-anchor="middle" textLength="42.2" lengthAdjust="spacingAndGlyphs" stroke="#ffffff" stroke-width="0.3">8.3%</text>
<text x="598.3" y="250" font-size="14" font-weight="bold" fill="#ffffff" text-anchor="middle" textLength="51.5" lengthAdjust="spacingAndGlyphs" stroke="#ffffff" stroke-width="0.3">35.6%</text>
<text y="170.3" font-size="19.2" font-weight="bold" fill="#3b3636" stroke="#3b3636" stroke-width="0.65"><tspan x="537.5" textLength="73.0" lengthAdjust="spacingAndGlyphs">Остальные</tspan></text>
<text y="170.3" font-size="19.2" font-weight="bold" fill="#3b3636" stroke="#3b3636" stroke-width="0.65"><tspan x="768.5" textLength="67.5" lengthAdjust="spacingAndGlyphs">MINECRAFT</tspan></text>
<text y="326.0" font-size="19.2" font-weight="bold" fill="#3b3636" stroke="#3b3636" stroke-width="0.65"><tspan x="823.5" textLength="22.0" lengthAdjust="spacingAndGlyphs">GTA</tspan></text>
<text y="401.8" font-size="19.2" font-weight="bold" fill="#3b3636" stroke="#3b3636" stroke-width="0.65"><tspan x="766.5" textLength="58.0" lengthAdjust="spacingAndGlyphs">Ведьмак</tspan></text>
<text y="422.8" font-size="19.2" font-weight="bold" fill="#3b3636" stroke="#3b3636" stroke-width="0.65"><tspan x="672.1" textLength="24.4" lengthAdjust="spacingAndGlyphs">FIFA</tspan></text>
<text y="400.0" font-size="19.2" font-weight="bold" fill="#3b3636" stroke="#3b3636" stroke-width="0.65"><tspan x="559.5" textLength="42.2" lengthAdjust="spacingAndGlyphs">Mortal</tspan></text>
<text y="416.8" font-size="19.2" font-weight="bold" fill="#3b3636" stroke="#3b3636" stroke-width="0.65"><tspan x="555.5" textLength="51.0" lengthAdjust="spacingAndGlyphs">combat</tspan></text>
</svg>
</body></html>
